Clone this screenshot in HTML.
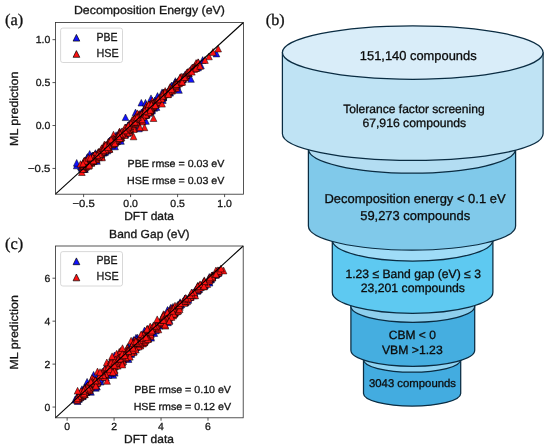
<!DOCTYPE html>
<html><head><meta charset="utf-8"><title>figure</title>
<style>html,body{margin:0;padding:0;background:#fff}svg{display:block;will-change:transform}</style></head>
<body>
<svg width="550" height="448" viewBox="0 0 550 448" text-rendering="geometricPrecision">
<rect width="550" height="448" fill="#fff"/>
<g stroke="#000" stroke-width="0.5" stroke-linejoin="miter">
<path d="M87.2 157.2L83.8 163.9H90.5Z" fill="#1212ff"/>
<path d="M137.0 118.5L133.7 125.2H140.4Z" fill="#1212ff"/>
<path d="M112.2 135.9L108.9 142.6H115.6Z" fill="#1212ff"/>
<path d="M132.2 118.5L128.8 125.2H135.5Z" fill="#1212ff"/>
<path d="M153.2 100.5L149.9 107.2H156.6Z" fill="#1212ff"/>
<path d="M120.0 133.6L116.6 140.3H123.3Z" fill="#1212ff"/>
<path d="M119.0 133.1L115.6 139.8H122.3Z" fill="#1212ff"/>
<path d="M87.8 158.4L84.4 165.1H91.1Z" fill="#1212ff"/>
<path d="M100.5 148.3L97.2 155.0H103.9Z" fill="#1212ff"/>
<path d="M117.4 134.5L114.1 141.2H120.8Z" fill="#1212ff"/>
<path d="M131.6 121.7L128.3 128.4H135.0Z" fill="#1212ff"/>
<path d="M140.0 113.1L136.7 119.8H143.4Z" fill="#1212ff"/>
<path d="M109.5 138.3L106.2 145.0H112.9Z" fill="#1212ff"/>
<path d="M84.9 165.7L81.6 172.4H88.3Z" fill="#1212ff"/>
<path d="M103.4 149.4L100.1 156.1H106.8Z" fill="#1212ff"/>
<path d="M146.7 110.8L143.4 117.5H150.1Z" fill="#1212ff"/>
<path d="M95.0 154.9L91.7 161.6H98.4Z" fill="#1212ff"/>
<path d="M113.9 141.3L110.5 148.0H117.2Z" fill="#1212ff"/>
<path d="M149.5 103.7L146.2 110.4H152.9Z" fill="#1212ff"/>
<path d="M85.5 160.2L82.1 166.9H88.8Z" fill="#1212ff"/>
<path d="M124.8 128.0L121.5 134.7H128.2Z" fill="#1212ff"/>
<path d="M149.2 106.6L145.9 113.3H152.6Z" fill="#1212ff"/>
<path d="M100.4 148.3L97.0 155.0H103.7Z" fill="#1212ff"/>
<path d="M121.6 130.0L118.2 136.7H124.9Z" fill="#1212ff"/>
<path d="M147.3 106.2L143.9 112.9H150.6Z" fill="#1212ff"/>
<path d="M90.3 158.5L87.0 165.2H93.7Z" fill="#1212ff"/>
<path d="M118.7 131.6L115.3 138.3H122.0Z" fill="#1212ff"/>
<path d="M137.4 119.2L134.1 125.9H140.8Z" fill="#1212ff"/>
<path d="M129.9 120.1L126.5 126.8H133.2Z" fill="#1212ff"/>
<path d="M115.1 143.1L111.7 149.8H118.4Z" fill="#1212ff"/>
<path d="M96.1 153.7L92.7 160.4H99.4Z" fill="#1212ff"/>
<path d="M118.7 135.7L115.4 142.4H122.1Z" fill="#1212ff"/>
<path d="M108.1 141.0L104.8 147.7H111.5Z" fill="#1212ff"/>
<path d="M116.9 138.0L113.5 144.7H120.2Z" fill="#1212ff"/>
<path d="M108.5 138.4L105.1 145.1H111.8Z" fill="#1212ff"/>
<path d="M142.6 114.6L139.2 121.3H145.9Z" fill="#1212ff"/>
<path d="M136.5 112.3L133.2 119.0H139.9Z" fill="#1212ff"/>
<path d="M105.1 144.2L101.7 150.9H108.4Z" fill="#1212ff"/>
<path d="M124.7 127.5L121.3 134.2H128.0Z" fill="#1212ff"/>
<path d="M101.7 147.0L98.3 153.7H105.0Z" fill="#1212ff"/>
<path d="M113.6 132.8L110.3 139.5H117.0Z" fill="#1212ff"/>
<path d="M106.1 142.6L102.7 149.3H109.4Z" fill="#1212ff"/>
<path d="M129.5 128.1L126.1 134.8H132.8Z" fill="#1212ff"/>
<path d="M108.3 139.9L104.9 146.6H111.6Z" fill="#1212ff"/>
<path d="M114.9 136.0L111.5 142.7H118.2Z" fill="#1212ff"/>
<path d="M133.8 122.8L130.4 129.5H137.1Z" fill="#1212ff"/>
<path d="M110.2 139.1L106.9 145.8H113.6Z" fill="#1212ff"/>
<path d="M148.1 108.9L144.7 115.6H151.4Z" fill="#1212ff"/>
<path d="M95.0 152.7L91.7 159.4H98.4Z" fill="#1212ff"/>
<path d="M135.3 117.4L131.9 124.1H138.6Z" fill="#1212ff"/>
<path d="M112.5 140.1L109.2 146.8H115.9Z" fill="#1212ff"/>
<path d="M113.5 136.4L110.1 143.1H116.8Z" fill="#1212ff"/>
<path d="M127.7 127.1L124.3 133.8H131.0Z" fill="#1212ff"/>
<path d="M118.8 132.6L115.4 139.3H122.1Z" fill="#1212ff"/>
<path d="M112.8 139.6L109.5 146.3H116.2Z" fill="#1212ff"/>
<path d="M81.4 164.5L78.1 171.2H84.8Z" fill="#1212ff"/>
<path d="M87.7 154.7L84.4 161.4H91.1Z" fill="#1212ff"/>
<path d="M131.6 121.0L128.2 127.7H134.9Z" fill="#1212ff"/>
<path d="M119.7 134.5L116.3 141.2H123.0Z" fill="#1212ff"/>
<path d="M131.1 122.0L127.8 128.7H134.5Z" fill="#1212ff"/>
<path d="M150.4 105.8L147.0 112.5H153.7Z" fill="#1212ff"/>
<path d="M131.6 121.2L128.2 127.9H134.9Z" fill="#1212ff"/>
<path d="M85.6 160.2L82.2 166.9H88.9Z" fill="#1212ff"/>
<path d="M105.0 144.9L101.7 151.6H108.4Z" fill="#1212ff"/>
<path d="M124.9 127.2L121.5 133.9H128.2Z" fill="#1212ff"/>
<path d="M98.4 151.7L95.0 158.4H101.7Z" fill="#1212ff"/>
<path d="M151.3 102.3L147.9 109.0H154.6Z" fill="#1212ff"/>
<path d="M149.6 102.4L146.3 109.1H153.0Z" fill="#1212ff"/>
<path d="M143.7 111.5L140.4 118.2H147.1Z" fill="#1212ff"/>
<path d="M115.9 135.7L112.6 142.4H119.3Z" fill="#1212ff"/>
<path d="M142.2 111.4L138.9 118.1H145.6Z" fill="#1212ff"/>
<path d="M92.0 152.6L88.7 159.3H95.4Z" fill="#1212ff"/>
<path d="M104.2 143.6L100.8 150.3H107.5Z" fill="#1212ff"/>
<path d="M114.8 138.2L111.4 144.9H118.1Z" fill="#1212ff"/>
<path d="M134.0 118.9L130.6 125.6H137.3Z" fill="#1212ff"/>
<path d="M117.3 137.6L113.9 144.3H120.6Z" fill="#1212ff"/>
<path d="M91.9 157.7L88.5 164.4H95.2Z" fill="#1212ff"/>
<path d="M106.6 144.0L103.3 150.7H110.0Z" fill="#1212ff"/>
<path d="M104.8 144.1L101.4 150.8H108.1Z" fill="#1212ff"/>
<path d="M102.7 145.1L99.3 151.8H106.0Z" fill="#1212ff"/>
<path d="M93.5 155.0L90.1 161.7H96.8Z" fill="#1212ff"/>
<path d="M112.0 142.2L108.6 148.9H115.3Z" fill="#1212ff"/>
<path d="M114.0 136.4L110.7 143.1H117.4Z" fill="#1212ff"/>
<path d="M137.7 116.1L134.3 122.8H141.0Z" fill="#1212ff"/>
<path d="M138.9 113.6L135.6 120.3H142.3Z" fill="#1212ff"/>
<path d="M119.8 131.6L116.5 138.3H123.2Z" fill="#1212ff"/>
<path d="M115.3 134.6L111.9 141.3H118.6Z" fill="#1212ff"/>
<path d="M137.3 114.6L134.0 121.3H140.7Z" fill="#1212ff"/>
<path d="M146.7 105.6L143.3 112.3H150.0Z" fill="#1212ff"/>
<path d="M131.3 122.5L128.0 129.2H134.7Z" fill="#1212ff"/>
<path d="M140.4 111.0L137.1 117.7H143.8Z" fill="#1212ff"/>
<path d="M149.6 106.0L146.2 112.7H152.9Z" fill="#1212ff"/>
<path d="M84.5 161.2L81.1 167.9H87.8Z" fill="#1212ff"/>
<path d="M144.0 105.8L140.7 112.5H147.4Z" fill="#1212ff"/>
<path d="M102.4 146.4L99.1 153.1H105.8Z" fill="#1212ff"/>
<path d="M114.1 139.8L110.8 146.5H117.5Z" fill="#1212ff"/>
<path d="M139.0 111.2L135.7 117.9H142.4Z" fill="#1212ff"/>
<path d="M133.3 117.5L130.0 124.2H136.7Z" fill="#1212ff"/>
<path d="M93.2 152.0L89.8 158.7H96.5Z" fill="#1212ff"/>
<path d="M129.4 122.8L126.0 129.5H132.7Z" fill="#1212ff"/>
<path d="M85.8 159.7L82.5 166.4H89.2Z" fill="#1212ff"/>
<path d="M106.2 144.9L102.9 151.6H109.6Z" fill="#1212ff"/>
<path d="M139.9 115.2L136.5 121.9H143.2Z" fill="#1212ff"/>
<path d="M112.8 135.1L109.4 141.8H116.1Z" fill="#1212ff"/>
<path d="M125.2 127.9L121.8 134.6H128.5Z" fill="#1212ff"/>
<path d="M134.2 119.9L130.9 126.6H137.6Z" fill="#1212ff"/>
<path d="M140.5 114.1L137.2 120.8H143.9Z" fill="#1212ff"/>
<path d="M136.6 112.6L133.2 119.3H139.9Z" fill="#1212ff"/>
<path d="M83.2 160.5L79.8 167.2H86.5Z" fill="#1212ff"/>
<path d="M111.1 140.8L107.8 147.5H114.5Z" fill="#1212ff"/>
<path d="M115.3 136.3L111.9 143.0H118.6Z" fill="#1212ff"/>
<path d="M87.3 157.9L83.9 164.6H90.6Z" fill="#1212ff"/>
<path d="M121.4 128.6L118.1 135.3H124.8Z" fill="#1212ff"/>
<path d="M125.3 130.6L121.9 137.3H128.6Z" fill="#1212ff"/>
<path d="M142.3 109.5L139.0 116.2H145.7Z" fill="#1212ff"/>
<path d="M149.2 105.7L145.8 112.4H152.5Z" fill="#1212ff"/>
<path d="M91.0 157.8L87.7 164.5H94.4Z" fill="#1212ff"/>
<path d="M99.9 150.0L96.5 156.7H103.2Z" fill="#1212ff"/>
<path d="M131.2 119.9L127.9 126.6H134.6Z" fill="#1212ff"/>
<path d="M89.7 153.6L86.4 160.3H93.1Z" fill="#1212ff"/>
<path d="M98.6 149.9L95.2 156.6H101.9Z" fill="#1212ff"/>
<path d="M125.2 125.9L121.8 132.6H128.5Z" fill="#1212ff"/>
<path d="M93.5 156.2L90.1 162.9H96.8Z" fill="#1212ff"/>
<path d="M138.6 113.8L135.2 120.5H141.9Z" fill="#1212ff"/>
<path d="M145.2 107.1L141.8 113.8H148.5Z" fill="#1212ff"/>
<path d="M83.7 165.4L80.3 172.1H87.0Z" fill="#1212ff"/>
<path d="M120.7 132.3L117.3 139.0H124.0Z" fill="#1212ff"/>
<path d="M139.3 112.4L136.0 119.1H142.7Z" fill="#1212ff"/>
<path d="M150.5 107.9L147.1 114.6H153.8Z" fill="#1212ff"/>
<path d="M101.9 148.5L98.5 155.2H105.2Z" fill="#1212ff"/>
<path d="M93.8 152.8L90.4 159.5H97.1Z" fill="#1212ff"/>
<path d="M146.0 111.8L142.7 118.5H149.4Z" fill="#1212ff"/>
<path d="M149.5 105.8L146.1 112.5H152.8Z" fill="#1212ff"/>
<path d="M96.7 151.6L93.3 158.3H100.0Z" fill="#1212ff"/>
<path d="M113.3 136.0L110.0 142.7H116.7Z" fill="#1212ff"/>
<path d="M134.2 121.7L130.9 128.4H137.6Z" fill="#1212ff"/>
<path d="M143.1 108.3L139.7 115.0H146.4Z" fill="#1212ff"/>
<path d="M94.9 152.4L91.5 159.1H98.2Z" fill="#1212ff"/>
<path d="M128.5 121.5L125.1 128.2H131.8Z" fill="#1212ff"/>
<path d="M139.1 111.9L135.7 118.6H142.4Z" fill="#1212ff"/>
<path d="M119.6 131.5L116.2 138.2H122.9Z" fill="#1212ff"/>
<path d="M94.2 152.6L90.9 159.3H97.6Z" fill="#1212ff"/>
<path d="M84.3 165.4L80.9 172.1H87.6Z" fill="#1212ff"/>
<path d="M101.5 151.1L98.1 157.8H104.8Z" fill="#1212ff"/>
<path d="M139.5 116.2L136.2 122.9H142.9Z" fill="#1212ff"/>
<path d="M84.4 162.3L81.1 169.0H87.8Z" fill="#1212ff"/>
<path d="M81.4 162.0L78.1 168.7H84.8Z" fill="#1212ff"/>
<path d="M107.6 147.1L104.2 153.8H110.9Z" fill="#1212ff"/>
<path d="M85.9 161.1L82.5 167.8H89.2Z" fill="#1212ff"/>
<path d="M93.8 156.8L90.5 163.5H97.2Z" fill="#1212ff"/>
<path d="M83.7 165.4L80.4 172.1H87.1Z" fill="#1212ff"/>
<path d="M118.9 129.6L115.6 136.3H122.3Z" fill="#1212ff"/>
<path d="M131.6 121.0L128.2 127.7H134.9Z" fill="#1212ff"/>
<path d="M113.8 134.0L110.4 140.7H117.1Z" fill="#1212ff"/>
<path d="M91.9 152.9L88.5 159.6H95.2Z" fill="#1212ff"/>
<path d="M106.0 146.5L102.6 153.2H109.3Z" fill="#1212ff"/>
<path d="M125.1 131.3L121.8 138.0H128.5Z" fill="#1212ff"/>
<path d="M151.3 98.7L147.9 105.4H154.6Z" fill="#1212ff"/>
<path d="M152.4 103.1L149.1 109.8H155.8Z" fill="#1212ff"/>
<path d="M98.5 153.0L95.2 159.7H101.9Z" fill="#1212ff"/>
<path d="M80.8 163.1L77.5 169.8H84.2Z" fill="#1212ff"/>
<path d="M142.3 111.2L139.0 117.9H145.7Z" fill="#1212ff"/>
<path d="M148.4 107.4L145.1 114.1H151.8Z" fill="#1212ff"/>
<path d="M114.3 137.8L110.9 144.5H117.6Z" fill="#1212ff"/>
<path d="M136.8 116.1L133.5 122.8H140.2Z" fill="#1212ff"/>
<path d="M145.1 108.8L141.7 115.5H148.4Z" fill="#1212ff"/>
<path d="M125.7 125.0L122.4 131.7H129.1Z" fill="#1212ff"/>
<path d="M144.4 110.4L141.0 117.1H147.7Z" fill="#1212ff"/>
<path d="M84.6 161.9L81.3 168.6H88.0Z" fill="#1212ff"/>
<path d="M100.4 147.7L97.0 154.4H103.7Z" fill="#1212ff"/>
<path d="M100.6 148.2L97.2 154.9H103.9Z" fill="#1212ff"/>
<path d="M92.9 152.1L89.5 158.8H96.2Z" fill="#1212ff"/>
<path d="M147.3 107.5L143.9 114.2H150.6Z" fill="#1212ff"/>
<path d="M83.4 162.5L80.1 169.2H86.8Z" fill="#1212ff"/>
<path d="M129.7 125.5L126.4 132.2H133.1Z" fill="#1212ff"/>
<path d="M86.8 156.3L83.4 163.0H90.1Z" fill="#1212ff"/>
<path d="M108.6 145.4L105.2 152.1H111.9Z" fill="#1212ff"/>
<path d="M112.7 138.1L109.3 144.8H116.0Z" fill="#1212ff"/>
<path d="M95.4 154.8L92.0 161.5H98.7Z" fill="#1212ff"/>
<path d="M119.2 131.9L115.8 138.6H122.5Z" fill="#1212ff"/>
<path d="M119.0 131.1L115.7 137.8H122.4Z" fill="#1212ff"/>
<path d="M104.9 148.9L101.6 155.6H108.3Z" fill="#1212ff"/>
<path d="M136.5 117.2L133.1 123.9H139.8Z" fill="#1212ff"/>
<path d="M94.3 157.4L91.0 164.1H97.7Z" fill="#1212ff"/>
<path d="M95.5 149.7L92.1 156.4H98.8Z" fill="#1212ff"/>
<path d="M108.1 143.7L104.8 150.4H111.5Z" fill="#1212ff"/>
<path d="M108.7 145.6L105.4 152.3H112.1Z" fill="#1212ff"/>
<path d="M96.6 153.4L93.2 160.1H99.9Z" fill="#1212ff"/>
<path d="M147.1 104.3L143.7 111.0H150.4Z" fill="#1212ff"/>
<path d="M141.4 109.1L138.0 115.8H144.7Z" fill="#1212ff"/>
<path d="M89.6 154.6L86.2 161.3H92.9Z" fill="#1212ff"/>
<path d="M108.3 144.3L105.0 151.0H111.7Z" fill="#1212ff"/>
<path d="M99.3 150.0L95.9 156.7H102.6Z" fill="#1212ff"/>
<path d="M116.1 131.8L112.8 138.5H119.5Z" fill="#1212ff"/>
<path d="M103.0 148.3L99.6 155.0H106.3Z" fill="#1212ff"/>
<path d="M117.8 134.6L114.4 141.3H121.1Z" fill="#1212ff"/>
<path d="M147.8 108.6L144.5 115.3H151.2Z" fill="#1212ff"/>
<path d="M108.8 144.6L105.4 151.3H112.1Z" fill="#1212ff"/>
<path d="M127.9 122.0L124.5 128.7H131.2Z" fill="#1212ff"/>
<path d="M124.9 126.0L121.5 132.7H128.2Z" fill="#1212ff"/>
<path d="M136.5 115.8L133.2 122.5H139.9Z" fill="#1212ff"/>
<path d="M86.4 158.6L83.0 165.3H89.7Z" fill="#1212ff"/>
<path d="M135.8 115.2L132.5 121.9H139.2Z" fill="#1212ff"/>
<path d="M150.4 100.8L147.0 107.5H153.7Z" fill="#1212ff"/>
<path d="M125.3 127.0L121.9 133.7H128.6Z" fill="#1212ff"/>
<path d="M101.8 148.6L98.5 155.3H105.2Z" fill="#1212ff"/>
<path d="M132.0 123.1L128.7 129.8H135.4Z" fill="#1212ff"/>
<path d="M134.2 116.5L130.9 123.2H137.6Z" fill="#1212ff"/>
<path d="M128.4 125.3L125.0 132.0H131.7Z" fill="#1212ff"/>
<path d="M91.5 159.3L88.2 166.0H94.9Z" fill="#1212ff"/>
<path d="M151.6 103.6L148.3 110.3H155.0Z" fill="#1212ff"/>
<path d="M150.9 103.6L147.6 110.3H154.3Z" fill="#1212ff"/>
<path d="M113.6 135.8L110.3 142.5H117.0Z" fill="#1212ff"/>
<path d="M125.6 124.5L122.3 131.2H129.0Z" fill="#1212ff"/>
<path d="M85.6 162.0L82.2 168.7H88.9Z" fill="#1212ff"/>
<path d="M154.3 102.3L150.9 109.0H157.6Z" fill="#1212ff"/>
<path d="M142.0 112.5L138.7 119.2H145.4Z" fill="#1212ff"/>
<path d="M128.5 126.8L125.1 133.5H131.8Z" fill="#1212ff"/>
<path d="M137.2 116.4L133.9 123.1H140.6Z" fill="#1212ff"/>
<path d="M95.2 152.0L91.9 158.7H98.6Z" fill="#1212ff"/>
<path d="M102.3 147.5L99.0 154.2H105.7Z" fill="#1212ff"/>
<path d="M99.4 153.2L96.1 159.9H102.8Z" fill="#1212ff"/>
<path d="M126.6 128.5L123.2 135.2H129.9Z" fill="#1212ff"/>
<path d="M87.9 156.0L84.5 162.7H91.2Z" fill="#1212ff"/>
<path d="M146.0 110.4L142.6 117.1H149.3Z" fill="#1212ff"/>
<path d="M116.1 133.8L112.8 140.5H119.5Z" fill="#1212ff"/>
<path d="M114.0 135.9L110.6 142.6H117.3Z" fill="#1212ff"/>
<path d="M88.8 158.7L85.5 165.4H92.2Z" fill="#1212ff"/>
<path d="M132.8 122.4L129.4 129.1H136.1Z" fill="#1212ff"/>
<path d="M141.4 111.8L138.1 118.5H144.8Z" fill="#1212ff"/>
<path d="M128.0 126.5L124.6 133.2H131.3Z" fill="#1212ff"/>
<path d="M98.7 150.7L95.4 157.4H102.1Z" fill="#1212ff"/>
<path d="M139.0 114.2L135.7 120.9H142.4Z" fill="#1212ff"/>
<path d="M92.6 156.5L89.3 163.2H96.0Z" fill="#1212ff"/>
<path d="M142.3 112.0L139.0 118.7H145.7Z" fill="#1212ff"/>
<path d="M124.8 128.1L121.5 134.8H128.2Z" fill="#1212ff"/>
<path d="M103.7 148.9L100.4 155.6H107.1Z" fill="#1212ff"/>
<path d="M119.0 133.2L115.7 139.9H122.4Z" fill="#1212ff"/>
<path d="M127.9 126.1L124.5 132.8H131.2Z" fill="#1212ff"/>
<path d="M99.4 153.9L96.0 160.6H102.7Z" fill="#1212ff"/>
<path d="M143.6 111.0L140.3 117.7H147.0Z" fill="#1212ff"/>
<path d="M112.9 139.0L109.5 145.7H116.2Z" fill="#1212ff"/>
<path d="M145.9 109.5L142.6 116.2H149.3Z" fill="#1212ff"/>
<path d="M141.5 116.8L138.1 123.5H144.8Z" fill="#1212ff"/>
<path d="M88.9 156.3L85.5 163.0H92.2Z" fill="#1212ff"/>
<path d="M127.4 123.6L124.0 130.3H130.7Z" fill="#1212ff"/>
<path d="M104.5 144.2L101.2 150.9H107.9Z" fill="#1212ff"/>
<path d="M136.6 116.0L133.2 122.7H139.9Z" fill="#1212ff"/>
<path d="M120.1 134.5L116.8 141.2H123.5Z" fill="#1212ff"/>
<path d="M114.9 136.3L111.5 143.0H118.2Z" fill="#1212ff"/>
<path d="M147.5 108.8L144.2 115.5H150.9Z" fill="#1212ff"/>
<path d="M86.9 154.6L83.5 161.3H90.2Z" fill="#1212ff"/>
<path d="M123.0 130.2L119.7 136.9H126.4Z" fill="#1212ff"/>
<path d="M105.3 143.6L102.0 150.3H108.7Z" fill="#1212ff"/>
<path d="M84.0 165.3L80.6 172.0H87.3Z" fill="#1212ff"/>
<path d="M135.9 119.9L132.5 126.6H139.2Z" fill="#1212ff"/>
<path d="M122.9 130.4L119.6 137.1H126.3Z" fill="#1212ff"/>
<path d="M148.6 104.1L145.3 110.8H152.0Z" fill="#1212ff"/>
<path d="M126.3 124.9L123.0 131.6H129.7Z" fill="#1212ff"/>
<path d="M107.6 142.4L104.3 149.1H111.0Z" fill="#1212ff"/>
<path d="M154.3 104.6L150.9 111.3H157.6Z" fill="#1212ff"/>
<path d="M88.6 155.9L85.2 162.6H91.9Z" fill="#1212ff"/>
<path d="M85.3 162.8L82.0 169.5H88.7Z" fill="#1212ff"/>
<path d="M134.3 115.2L131.0 121.9H137.7Z" fill="#1212ff"/>
<path d="M109.7 137.1L106.4 143.8H113.1Z" fill="#1212ff"/>
<path d="M109.5 139.6L106.1 146.3H112.8Z" fill="#1212ff"/>
<path d="M144.5 107.3L141.2 114.0H147.9Z" fill="#1212ff"/>
<path d="M105.4 147.7L102.1 154.4H108.8Z" fill="#1212ff"/>
<path d="M146.6 101.9L143.2 108.6H149.9Z" fill="#1212ff"/>
<path d="M127.9 124.2L124.5 130.9H131.2Z" fill="#1212ff"/>
<path d="M104.9 143.2L101.6 149.9H108.3Z" fill="#1212ff"/>
<path d="M85.4 162.7L82.0 169.4H88.7Z" fill="#1212ff"/>
<path d="M100.3 149.0L96.9 155.7H103.6Z" fill="#1212ff"/>
<path d="M151.0 106.2L147.6 112.9H154.3Z" fill="#1212ff"/>
<path d="M112.1 139.6L108.8 146.3H115.5Z" fill="#1212ff"/>
<path d="M93.4 154.4L90.0 161.1H96.7Z" fill="#1212ff"/>
<path d="M104.0 145.4L100.6 152.1H107.3Z" fill="#1212ff"/>
<path d="M148.3 102.9L144.9 109.6H151.6Z" fill="#1212ff"/>
<path d="M93.0 153.7L89.7 160.4H96.4Z" fill="#1212ff"/>
<path d="M137.3 115.6L133.9 122.3H140.6Z" fill="#1212ff"/>
<path d="M91.9 155.4L88.5 162.1H95.2Z" fill="#1212ff"/>
<path d="M150.3 99.7L147.0 106.4H153.7Z" fill="#1212ff"/>
<path d="M119.4 133.7L116.1 140.4H122.8Z" fill="#1212ff"/>
<path d="M84.7 158.6L81.4 165.3H88.1Z" fill="#1212ff"/>
<path d="M149.2 109.5L145.9 116.2H152.6Z" fill="#1212ff"/>
<path d="M106.5 146.1L103.1 152.8H109.8Z" fill="#1212ff"/>
<path d="M134.3 117.9L131.0 124.6H137.7Z" fill="#1212ff"/>
<path d="M120.2 132.0L116.8 138.7H123.5Z" fill="#1212ff"/>
<path d="M89.7 150.5L86.3 157.2H93.0Z" fill="#1212ff"/>
<path d="M87.6 153.5L84.2 160.2H90.9Z" fill="#1212ff"/>
<path d="M93.7 157.3L90.4 164.0H97.1Z" fill="#1212ff"/>
<path d="M94.2 156.0L90.9 162.7H97.6Z" fill="#1212ff"/>
<path d="M84.5 161.8L81.2 168.5H87.9Z" fill="#1212ff"/>
<path d="M83.7 158.3L80.4 165.0H87.1Z" fill="#1212ff"/>
<path d="M150.8 101.3L147.4 108.0H154.1Z" fill="#1212ff"/>
<path d="M87.9 158.0L84.6 164.7H91.3Z" fill="#1212ff"/>
<path d="M118.6 136.2L115.3 142.9H122.0Z" fill="#1212ff"/>
<path d="M91.1 157.9L87.8 164.6H94.5Z" fill="#1212ff"/>
<path d="M96.9 157.6L93.6 164.3H100.3Z" fill="#1212ff"/>
<path d="M137.1 119.6L133.8 126.3H140.5Z" fill="#1212ff"/>
<path d="M180.4 75.9L177.1 82.6H183.8Z" fill="#1212ff"/>
<path d="M163.2 90.7L159.8 97.4H166.5Z" fill="#1212ff"/>
<path d="M146.6 110.5L143.2 117.2H149.9Z" fill="#1212ff"/>
<path d="M183.9 73.3L180.5 80.0H187.2Z" fill="#1212ff"/>
<path d="M146.7 103.9L143.4 110.6H150.1Z" fill="#1212ff"/>
<path d="M159.1 95.8L155.8 102.5H162.5Z" fill="#1212ff"/>
<path d="M167.2 89.3L163.8 96.0H170.5Z" fill="#1212ff"/>
<path d="M178.8 77.1L175.5 83.8H182.2Z" fill="#1212ff"/>
<path d="M176.0 79.7L172.7 86.4H179.4Z" fill="#1212ff"/>
<path d="M166.6 89.2L163.2 95.9H169.9Z" fill="#1212ff"/>
<path d="M160.4 96.1L157.1 102.8H163.8Z" fill="#1212ff"/>
<path d="M175.3 82.0L172.0 88.7H178.7Z" fill="#1212ff"/>
<path d="M176.9 79.7L173.6 86.4H180.3Z" fill="#1212ff"/>
<path d="M176.2 81.4L172.9 88.1H179.6Z" fill="#1212ff"/>
<path d="M171.2 82.8L167.8 89.5H174.5Z" fill="#1212ff"/>
<path d="M148.4 103.9L145.1 110.6H151.8Z" fill="#1212ff"/>
<path d="M154.5 97.9L151.2 104.6H157.9Z" fill="#1212ff"/>
<path d="M162.1 88.9L158.8 95.6H165.5Z" fill="#1212ff"/>
<path d="M163.6 89.3L160.3 96.0H167.0Z" fill="#1212ff"/>
<path d="M174.8 79.3L171.5 86.0H178.2Z" fill="#1212ff"/>
<path d="M152.5 101.4L149.1 108.1H155.8Z" fill="#1212ff"/>
<path d="M168.9 87.5L165.6 94.2H172.3Z" fill="#1212ff"/>
<path d="M157.5 92.6L154.1 99.3H160.8Z" fill="#1212ff"/>
<path d="M174.4 83.3L171.1 90.0H177.8Z" fill="#1212ff"/>
<path d="M151.1 104.8L147.8 111.5H154.5Z" fill="#1212ff"/>
<path d="M163.3 94.2L160.0 100.9H166.7Z" fill="#1212ff"/>
<path d="M149.5 104.5L146.1 111.2H152.8Z" fill="#1212ff"/>
<path d="M151.6 102.1L148.2 108.8H154.9Z" fill="#1212ff"/>
<path d="M179.9 75.4L176.6 82.1H183.3Z" fill="#1212ff"/>
<path d="M156.1 99.3L152.8 106.0H159.5Z" fill="#1212ff"/>
<path d="M177.2 82.6L173.9 89.3H180.6Z" fill="#1212ff"/>
<path d="M164.1 91.0L160.8 97.7H167.5Z" fill="#1212ff"/>
<path d="M145.9 106.0L142.6 112.7H149.3Z" fill="#1212ff"/>
<path d="M175.2 81.4L171.8 88.1H178.5Z" fill="#1212ff"/>
<path d="M147.6 106.9L144.3 113.6H151.0Z" fill="#1212ff"/>
<path d="M174.8 80.9L171.4 87.6H178.1Z" fill="#1212ff"/>
<path d="M144.7 106.2L141.3 112.9H148.0Z" fill="#1212ff"/>
<path d="M170.5 85.8L167.2 92.5H173.9Z" fill="#1212ff"/>
<path d="M152.0 105.7L148.7 112.4H155.4Z" fill="#1212ff"/>
<path d="M155.3 100.8L152.0 107.5H158.7Z" fill="#1212ff"/>
<path d="M181.7 75.8L178.4 82.5H185.1Z" fill="#1212ff"/>
<path d="M162.8 96.7L159.5 103.4H166.2Z" fill="#1212ff"/>
<path d="M170.9 84.1L167.5 90.8H174.2Z" fill="#1212ff"/>
<path d="M172.2 85.5L168.8 92.2H175.5Z" fill="#1212ff"/>
<path d="M148.1 105.1L144.7 111.8H151.4Z" fill="#1212ff"/>
<path d="M176.3 80.1L172.9 86.8H179.6Z" fill="#1212ff"/>
<path d="M180.2 77.4L176.8 84.1H183.5Z" fill="#1212ff"/>
<path d="M150.6 100.3L147.2 107.0H153.9Z" fill="#1212ff"/>
<path d="M163.0 93.5L159.7 100.2H166.4Z" fill="#1212ff"/>
<path d="M156.0 100.4L152.7 107.1H159.4Z" fill="#1212ff"/>
<path d="M171.0 84.7L167.7 91.4H174.4Z" fill="#1212ff"/>
<path d="M144.8 107.3L141.5 114.0H148.2Z" fill="#1212ff"/>
<path d="M162.9 92.7L159.5 99.4H166.2Z" fill="#1212ff"/>
<path d="M172.8 85.3L169.4 92.0H176.1Z" fill="#1212ff"/>
<path d="M171.2 83.9L167.8 90.6H174.5Z" fill="#1212ff"/>
<path d="M147.8 105.1L144.5 111.8H151.2Z" fill="#1212ff"/>
<path d="M175.4 77.7L172.1 84.4H178.8Z" fill="#1212ff"/>
<path d="M153.6 101.7L150.2 108.4H156.9Z" fill="#1212ff"/>
<path d="M174.8 81.5L171.4 88.2H178.1Z" fill="#1212ff"/>
<path d="M162.0 94.7L158.7 101.4H165.4Z" fill="#1212ff"/>
<path d="M150.6 107.2L147.2 113.9H153.9Z" fill="#1212ff"/>
<path d="M173.2 83.1L169.9 89.8H176.6Z" fill="#1212ff"/>
<path d="M176.0 79.3L172.6 86.0H179.3Z" fill="#1212ff"/>
<path d="M171.1 86.9L167.8 93.6H174.5Z" fill="#1212ff"/>
<path d="M181.6 76.8L178.2 83.5H184.9Z" fill="#1212ff"/>
<path d="M155.2 102.3L151.8 109.0H158.5Z" fill="#1212ff"/>
<path d="M154.8 97.1L151.5 103.8H158.2Z" fill="#1212ff"/>
<path d="M151.8 104.2L148.5 110.9H155.2Z" fill="#1212ff"/>
<path d="M164.7 90.1L161.3 96.8H168.0Z" fill="#1212ff"/>
<path d="M159.5 97.7L156.1 104.4H162.8Z" fill="#1212ff"/>
<path d="M159.5 95.6L156.1 102.3H162.8Z" fill="#1212ff"/>
<path d="M163.5 93.5L160.1 100.2H166.8Z" fill="#1212ff"/>
<path d="M156.5 103.7L153.1 110.4H159.8Z" fill="#1212ff"/>
<path d="M142.7 111.0L139.3 117.7H146.0Z" fill="#1212ff"/>
<path d="M162.2 92.1L158.9 98.8H165.6Z" fill="#1212ff"/>
<path d="M152.0 107.2L148.7 113.9H155.4Z" fill="#1212ff"/>
<path d="M162.3 93.6L158.9 100.3H165.6Z" fill="#1212ff"/>
<path d="M179.7 78.1L176.3 84.8H183.0Z" fill="#1212ff"/>
<path d="M151.5 105.5L148.1 112.2H154.8Z" fill="#1212ff"/>
<path d="M168.5 87.9L165.2 94.6H171.9Z" fill="#1212ff"/>
<path d="M170.2 89.4L166.8 96.1H173.5Z" fill="#1212ff"/>
<path d="M155.0 99.3L151.7 106.0H158.4Z" fill="#1212ff"/>
<path d="M163.4 89.6L160.0 96.3H166.7Z" fill="#1212ff"/>
<path d="M181.7 77.7L178.3 84.4H185.0Z" fill="#1212ff"/>
<path d="M157.9 97.4L154.6 104.1H161.3Z" fill="#1212ff"/>
<path d="M171.9 82.0L168.6 88.7H175.3Z" fill="#1212ff"/>
<path d="M176.4 80.1L173.0 86.8H179.7Z" fill="#1212ff"/>
<path d="M157.2 99.0L153.9 105.7H160.6Z" fill="#1212ff"/>
<path d="M182.6 76.2L179.2 82.9H185.9Z" fill="#1212ff"/>
<path d="M168.9 86.9L165.6 93.6H172.3Z" fill="#1212ff"/>
<path d="M187.8 70.1L184.5 76.8H191.2Z" fill="#1212ff"/>
<path d="M193.1 64.3L189.7 71.0H196.4Z" fill="#1212ff"/>
<path d="M187.2 72.3L183.9 79.0H190.6Z" fill="#1212ff"/>
<path d="M191.1 65.6L187.8 72.3H194.5Z" fill="#1212ff"/>
<path d="M183.1 74.7L179.8 81.4H186.5Z" fill="#1212ff"/>
<path d="M196.4 61.3L193.0 68.0H199.7Z" fill="#1212ff"/>
<path d="M188.0 70.7L184.6 77.4H191.3Z" fill="#1212ff"/>
<path d="M182.9 76.0L179.6 82.7H186.3Z" fill="#1212ff"/>
<path d="M185.8 72.4L182.5 79.1H189.2Z" fill="#1212ff"/>
<path d="M195.7 63.9L192.4 70.6H199.1Z" fill="#1212ff"/>
<path d="M194.5 64.2L191.2 70.9H197.9Z" fill="#1212ff"/>
<path d="M187.9 69.0L184.6 75.7H191.3Z" fill="#1212ff"/>
<path d="M185.2 71.0L181.8 77.7H188.5Z" fill="#1212ff"/>
<path d="M187.5 70.0L184.1 76.7H190.8Z" fill="#1212ff"/>
<path d="M197.4 61.8L194.1 68.5H200.8Z" fill="#1212ff"/>
<path d="M180.2 77.7L176.8 84.4H183.5Z" fill="#1212ff"/>
<path d="M194.9 62.8L191.5 69.5H198.2Z" fill="#1212ff"/>
<path d="M195.8 61.2L192.4 67.9H199.1Z" fill="#1212ff"/>
<path d="M183.3 74.6L180.0 81.3H186.7Z" fill="#1212ff"/>
<path d="M186.0 71.8L182.6 78.5H189.3Z" fill="#1212ff"/>
<path d="M188.8 70.0L185.4 76.7H192.1Z" fill="#1212ff"/>
<path d="M193.9 64.1L190.6 70.8H197.3Z" fill="#1212ff"/>
<path d="M198.4 59.0L195.1 65.7H201.8Z" fill="#1212ff"/>
<path d="M198.0 64.1L194.7 70.8H201.4Z" fill="#1212ff"/>
<path d="M76.7 162.2L73.4 168.8H80.0Z" fill="#1212ff"/>
<path d="M76.7 159.5L73.4 166.2H80.0Z" fill="#1212ff"/>
<path d="M125.5 114.0L122.2 120.6H128.8Z" fill="#1212ff"/>
<path d="M135.5 109.1L132.2 115.8H138.8Z" fill="#1212ff"/>
<path d="M141.3 99.4L138.0 106.0H144.7Z" fill="#1212ff"/>
<path d="M145.5 99.4L142.2 106.0H148.8Z" fill="#1212ff"/>
<path d="M151.0 94.9L147.7 101.5H154.3Z" fill="#1212ff"/>
<path d="M179.0 86.7L175.7 93.3H182.3Z" fill="#1212ff"/>
<path d="M191.0 75.7L187.7 82.3H194.3Z" fill="#1212ff"/>
<path d="M198.2 63.0L194.8 69.7H201.5Z" fill="#1212ff"/>
<path d="M201.0 62.1L197.7 68.8H204.3Z" fill="#1212ff"/>
<path d="M202.7 56.6L199.3 63.4H206.0Z" fill="#1212ff"/>
<path d="M216.4 50.2L213.1 56.9H219.8Z" fill="#1212ff"/>
<path d="M146.0 117.7L142.7 124.3H149.3Z" fill="#1212ff"/>
<path d="M139.0 125.2L135.7 131.8H142.3Z" fill="#1212ff"/>
<path d="M128.0 129.7L124.7 136.3H131.3Z" fill="#1212ff"/>
<path d="M121.0 137.7L117.7 144.3H124.3Z" fill="#1212ff"/>
<path d="M87.2 161.2L83.9 167.9H90.6Z" fill="#ff1212"/>
<path d="M138.2 116.7L134.8 123.4H141.5Z" fill="#ff1212"/>
<path d="M113.5 131.2L110.1 137.9H116.8Z" fill="#ff1212"/>
<path d="M134.1 120.4L130.7 127.1H137.4Z" fill="#ff1212"/>
<path d="M152.5 103.9L149.2 110.6H155.9Z" fill="#ff1212"/>
<path d="M120.7 130.5L117.3 137.2H124.0Z" fill="#ff1212"/>
<path d="M118.0 132.2L114.6 138.9H121.3Z" fill="#ff1212"/>
<path d="M86.9 159.0L83.6 165.7H90.3Z" fill="#ff1212"/>
<path d="M101.1 150.4L97.8 157.1H104.5Z" fill="#ff1212"/>
<path d="M117.9 136.5L114.6 143.2H121.3Z" fill="#ff1212"/>
<path d="M130.9 120.5L127.5 127.2H134.2Z" fill="#ff1212"/>
<path d="M139.9 113.8L136.5 120.5H143.2Z" fill="#ff1212"/>
<path d="M109.3 145.4L105.9 152.1H112.6Z" fill="#ff1212"/>
<path d="M86.5 157.1L83.1 163.8H89.8Z" fill="#ff1212"/>
<path d="M102.6 145.4L99.2 152.1H105.9Z" fill="#ff1212"/>
<path d="M147.6 107.2L144.2 113.9H150.9Z" fill="#ff1212"/>
<path d="M97.2 152.0L93.8 158.7H100.5Z" fill="#ff1212"/>
<path d="M114.4 136.4L111.1 143.1H117.8Z" fill="#ff1212"/>
<path d="M149.1 106.8L145.8 113.5H152.5Z" fill="#ff1212"/>
<path d="M83.5 165.3L80.2 172.0H86.9Z" fill="#ff1212"/>
<path d="M125.2 126.4L121.8 133.1H128.5Z" fill="#ff1212"/>
<path d="M150.5 107.3L147.1 114.0H153.8Z" fill="#ff1212"/>
<path d="M98.4 149.6L95.0 156.3H101.7Z" fill="#ff1212"/>
<path d="M121.4 133.9L118.1 140.6H124.8Z" fill="#ff1212"/>
<path d="M147.5 106.9L144.2 113.6H150.9Z" fill="#ff1212"/>
<path d="M91.4 156.3L88.0 163.0H94.7Z" fill="#ff1212"/>
<path d="M119.6 128.1L116.3 134.8H123.0Z" fill="#ff1212"/>
<path d="M136.0 119.7L132.7 126.4H139.4Z" fill="#ff1212"/>
<path d="M130.1 125.9L126.8 132.6H133.5Z" fill="#ff1212"/>
<path d="M115.6 137.4L112.2 144.1H118.9Z" fill="#ff1212"/>
<path d="M96.5 154.5L93.2 161.2H99.9Z" fill="#ff1212"/>
<path d="M117.2 135.7L113.9 142.4H120.6Z" fill="#ff1212"/>
<path d="M108.7 141.2L105.3 147.9H112.0Z" fill="#ff1212"/>
<path d="M116.3 133.5L112.9 140.2H119.6Z" fill="#ff1212"/>
<path d="M108.2 138.8L104.9 145.5H111.6Z" fill="#ff1212"/>
<path d="M142.4 113.1L139.0 119.8H145.7Z" fill="#ff1212"/>
<path d="M137.4 109.9L134.0 116.6H140.7Z" fill="#ff1212"/>
<path d="M104.4 141.1L101.1 147.8H107.8Z" fill="#ff1212"/>
<path d="M123.2 129.4L119.8 136.1H126.5Z" fill="#ff1212"/>
<path d="M101.7 153.2L98.4 159.9H105.1Z" fill="#ff1212"/>
<path d="M114.5 137.1L111.1 143.8H117.8Z" fill="#ff1212"/>
<path d="M107.3 143.3L103.9 150.0H110.6Z" fill="#ff1212"/>
<path d="M129.3 128.7L126.0 135.4H132.7Z" fill="#ff1212"/>
<path d="M108.5 142.2L105.2 148.9H111.9Z" fill="#ff1212"/>
<path d="M114.9 136.9L111.6 143.6H118.3Z" fill="#ff1212"/>
<path d="M133.8 121.1L130.4 127.8H137.1Z" fill="#ff1212"/>
<path d="M111.6 138.1L108.3 144.8H115.0Z" fill="#ff1212"/>
<path d="M147.3 104.6L144.0 111.3H150.7Z" fill="#ff1212"/>
<path d="M94.8 154.4L91.4 161.1H98.1Z" fill="#ff1212"/>
<path d="M135.4 117.3L132.0 124.0H138.7Z" fill="#ff1212"/>
<path d="M112.3 140.4L108.9 147.1H115.6Z" fill="#ff1212"/>
<path d="M112.6 140.4L109.2 147.1H115.9Z" fill="#ff1212"/>
<path d="M127.6 124.7L124.3 131.4H131.0Z" fill="#ff1212"/>
<path d="M119.6 131.0L116.2 137.7H122.9Z" fill="#ff1212"/>
<path d="M111.7 140.7L108.4 147.4H115.1Z" fill="#ff1212"/>
<path d="M81.8 168.8L78.5 175.5H85.2Z" fill="#ff1212"/>
<path d="M88.4 157.0L85.0 163.7H91.7Z" fill="#ff1212"/>
<path d="M133.1 123.6L129.7 130.3H136.4Z" fill="#ff1212"/>
<path d="M119.7 131.9L116.3 138.6H123.0Z" fill="#ff1212"/>
<path d="M132.1 116.7L128.8 123.4H135.5Z" fill="#ff1212"/>
<path d="M150.9 103.7L147.5 110.4H154.2Z" fill="#ff1212"/>
<path d="M131.1 124.4L127.8 131.1H134.5Z" fill="#ff1212"/>
<path d="M85.6 163.9L82.2 170.6H88.9Z" fill="#ff1212"/>
<path d="M104.1 143.3L100.7 150.0H107.4Z" fill="#ff1212"/>
<path d="M124.6 127.7L121.3 134.4H128.0Z" fill="#ff1212"/>
<path d="M98.7 148.9L95.4 155.6H102.1Z" fill="#ff1212"/>
<path d="M151.6 100.9L148.2 107.6H154.9Z" fill="#ff1212"/>
<path d="M150.1 104.5L146.8 111.2H153.5Z" fill="#ff1212"/>
<path d="M143.1 111.4L139.8 118.1H146.5Z" fill="#ff1212"/>
<path d="M115.9 137.8L112.6 144.5H119.3Z" fill="#ff1212"/>
<path d="M142.6 118.3L139.3 125.0H146.0Z" fill="#ff1212"/>
<path d="M91.2 159.6L87.9 166.3H94.6Z" fill="#ff1212"/>
<path d="M104.1 146.2L100.7 152.9H107.4Z" fill="#ff1212"/>
<path d="M115.2 136.6L111.9 143.3H118.6Z" fill="#ff1212"/>
<path d="M135.4 116.8L132.1 123.5H138.8Z" fill="#ff1212"/>
<path d="M116.9 135.0L113.5 141.7H120.2Z" fill="#ff1212"/>
<path d="M91.6 155.4L88.3 162.1H95.0Z" fill="#ff1212"/>
<path d="M106.6 142.2L103.2 148.9H109.9Z" fill="#ff1212"/>
<path d="M105.2 147.2L101.9 153.9H108.6Z" fill="#ff1212"/>
<path d="M103.5 147.2L100.1 153.9H106.8Z" fill="#ff1212"/>
<path d="M93.7 157.9L90.3 164.6H97.0Z" fill="#ff1212"/>
<path d="M111.8 137.1L108.4 143.8H115.1Z" fill="#ff1212"/>
<path d="M114.2 137.1L110.8 143.8H117.5Z" fill="#ff1212"/>
<path d="M137.8 114.5L134.5 121.2H141.2Z" fill="#ff1212"/>
<path d="M139.4 110.6L136.0 117.3H142.7Z" fill="#ff1212"/>
<path d="M119.5 129.8L116.2 136.5H122.9Z" fill="#ff1212"/>
<path d="M115.1 136.5L111.7 143.2H118.4Z" fill="#ff1212"/>
<path d="M138.0 113.5L134.7 120.2H141.4Z" fill="#ff1212"/>
<path d="M145.9 111.5L142.6 118.2H149.3Z" fill="#ff1212"/>
<path d="M130.6 121.2L127.2 127.9H133.9Z" fill="#ff1212"/>
<path d="M139.7 113.6L136.3 120.3H143.0Z" fill="#ff1212"/>
<path d="M149.7 108.5L146.3 115.2H153.0Z" fill="#ff1212"/>
<path d="M84.7 158.2L81.3 164.9H88.0Z" fill="#ff1212"/>
<path d="M145.1 110.6L141.8 117.3H148.5Z" fill="#ff1212"/>
<path d="M101.7 146.3L98.4 153.0H105.1Z" fill="#ff1212"/>
<path d="M116.2 136.3L112.8 143.0H119.5Z" fill="#ff1212"/>
<path d="M139.4 111.8L136.0 118.5H142.7Z" fill="#ff1212"/>
<path d="M133.6 116.4L130.3 123.1H137.0Z" fill="#ff1212"/>
<path d="M92.4 157.1L89.0 163.8H95.7Z" fill="#ff1212"/>
<path d="M129.4 126.8L126.1 133.5H132.8Z" fill="#ff1212"/>
<path d="M86.7 159.9L83.4 166.6H90.1Z" fill="#ff1212"/>
<path d="M107.6 141.2L104.2 147.9H110.9Z" fill="#ff1212"/>
<path d="M140.6 113.9L137.2 120.6H143.9Z" fill="#ff1212"/>
<path d="M112.7 140.0L109.3 146.7H116.0Z" fill="#ff1212"/>
<path d="M125.1 126.0L121.8 132.7H128.5Z" fill="#ff1212"/>
<path d="M134.4 125.1L131.1 131.8H137.8Z" fill="#ff1212"/>
<path d="M141.2 114.1L137.8 120.8H144.5Z" fill="#ff1212"/>
<path d="M136.8 119.7L133.4 126.4H140.1Z" fill="#ff1212"/>
<path d="M82.2 162.7L78.9 169.4H85.6Z" fill="#ff1212"/>
<path d="M112.1 140.7L108.8 147.4H115.5Z" fill="#ff1212"/>
<path d="M115.2 138.8L111.9 145.5H118.6Z" fill="#ff1212"/>
<path d="M85.7 161.2L82.4 167.9H89.1Z" fill="#ff1212"/>
<path d="M120.9 134.4L117.6 141.1H124.3Z" fill="#ff1212"/>
<path d="M125.7 126.7L122.4 133.4H129.1Z" fill="#ff1212"/>
<path d="M141.7 113.6L138.3 120.3H145.0Z" fill="#ff1212"/>
<path d="M149.9 105.4L146.5 112.1H153.2Z" fill="#ff1212"/>
<path d="M91.0 157.9L87.6 164.6H94.3Z" fill="#ff1212"/>
<path d="M98.4 148.4L95.0 155.1H101.7Z" fill="#ff1212"/>
<path d="M129.4 123.5L126.1 130.2H132.8Z" fill="#ff1212"/>
<path d="M91.3 154.8L88.0 161.5H94.7Z" fill="#ff1212"/>
<path d="M97.9 149.7L94.6 156.4H101.3Z" fill="#ff1212"/>
<path d="M123.3 130.7L120.0 137.4H126.7Z" fill="#ff1212"/>
<path d="M94.0 152.6L90.6 159.3H97.3Z" fill="#ff1212"/>
<path d="M138.3 114.3L135.0 121.0H141.7Z" fill="#ff1212"/>
<path d="M143.7 109.4L140.4 116.1H147.1Z" fill="#ff1212"/>
<path d="M84.2 162.6L80.8 169.3H87.5Z" fill="#ff1212"/>
<path d="M120.3 132.6L116.9 139.3H123.6Z" fill="#ff1212"/>
<path d="M139.4 112.3L136.1 119.0H142.8Z" fill="#ff1212"/>
<path d="M152.3 97.3L149.0 104.0H155.7Z" fill="#ff1212"/>
<path d="M101.6 149.9L98.2 156.6H104.9Z" fill="#ff1212"/>
<path d="M94.0 152.7L90.6 159.4H97.3Z" fill="#ff1212"/>
<path d="M145.2 109.7L141.8 116.4H148.5Z" fill="#ff1212"/>
<path d="M147.5 104.9L144.2 111.6H150.9Z" fill="#ff1212"/>
<path d="M96.0 151.3L92.7 158.0H99.4Z" fill="#ff1212"/>
<path d="M113.7 135.2L110.3 141.9H117.0Z" fill="#ff1212"/>
<path d="M133.8 125.7L130.4 132.4H137.1Z" fill="#ff1212"/>
<path d="M142.9 112.3L139.6 119.0H146.3Z" fill="#ff1212"/>
<path d="M93.9 156.3L90.5 163.0H97.2Z" fill="#ff1212"/>
<path d="M129.9 123.1L126.5 129.8H133.2Z" fill="#ff1212"/>
<path d="M140.2 115.1L136.8 121.8H143.5Z" fill="#ff1212"/>
<path d="M121.5 132.0L118.2 138.7H124.9Z" fill="#ff1212"/>
<path d="M93.6 152.6L90.3 159.3H97.0Z" fill="#ff1212"/>
<path d="M84.3 157.1L80.9 163.8H87.6Z" fill="#ff1212"/>
<path d="M102.1 154.1L98.7 160.8H105.4Z" fill="#ff1212"/>
<path d="M140.2 114.1L136.8 120.8H143.5Z" fill="#ff1212"/>
<path d="M85.0 160.3L81.6 167.0H88.3Z" fill="#ff1212"/>
<path d="M82.3 163.3L79.0 170.0H85.7Z" fill="#ff1212"/>
<path d="M107.9 143.7L104.5 150.4H111.2Z" fill="#ff1212"/>
<path d="M86.3 163.1L83.0 169.8H89.7Z" fill="#ff1212"/>
<path d="M92.5 157.3L89.2 164.0H95.9Z" fill="#ff1212"/>
<path d="M83.4 160.6L80.0 167.3H86.7Z" fill="#ff1212"/>
<path d="M119.7 129.6L116.3 136.3H123.0Z" fill="#ff1212"/>
<path d="M132.1 120.5L128.8 127.2H135.5Z" fill="#ff1212"/>
<path d="M112.6 140.5L109.3 147.2H116.0Z" fill="#ff1212"/>
<path d="M91.5 155.7L88.1 162.4H94.8Z" fill="#ff1212"/>
<path d="M105.7 145.3L102.4 152.0H109.1Z" fill="#ff1212"/>
<path d="M124.4 126.5L121.1 133.2H127.8Z" fill="#ff1212"/>
<path d="M149.8 104.4L146.5 111.1H153.2Z" fill="#ff1212"/>
<path d="M153.6 102.6L150.2 109.3H156.9Z" fill="#ff1212"/>
<path d="M99.2 149.4L95.9 156.1H102.6Z" fill="#ff1212"/>
<path d="M82.5 165.8L79.1 172.5H85.8Z" fill="#ff1212"/>
<path d="M141.8 110.0L138.5 116.7H145.2Z" fill="#ff1212"/>
<path d="M148.8 102.8L145.4 109.5H152.1Z" fill="#ff1212"/>
<path d="M114.9 139.2L111.6 145.9H118.3Z" fill="#ff1212"/>
<path d="M137.6 114.8L134.2 121.5H140.9Z" fill="#ff1212"/>
<path d="M144.4 111.9L141.1 118.6H147.8Z" fill="#ff1212"/>
<path d="M125.8 124.0L122.5 130.7H129.2Z" fill="#ff1212"/>
<path d="M144.9 107.0L141.5 113.7H148.2Z" fill="#ff1212"/>
<path d="M83.5 162.8L80.1 169.5H86.8Z" fill="#ff1212"/>
<path d="M101.4 145.8L98.0 152.5H104.7Z" fill="#ff1212"/>
<path d="M101.8 148.8L98.4 155.5H105.1Z" fill="#ff1212"/>
<path d="M90.5 158.2L87.1 164.9H93.8Z" fill="#ff1212"/>
<path d="M147.6 107.9L144.3 114.6H151.0Z" fill="#ff1212"/>
<path d="M83.9 162.2L80.6 168.9H87.3Z" fill="#ff1212"/>
<path d="M130.4 123.1L127.0 129.8H133.7Z" fill="#ff1212"/>
<path d="M86.9 159.2L83.5 165.9H90.2Z" fill="#ff1212"/>
<path d="M107.8 144.4L104.5 151.1H111.2Z" fill="#ff1212"/>
<path d="M112.0 137.4L108.6 144.1H115.3Z" fill="#ff1212"/>
<path d="M94.9 150.9L91.5 157.6H98.2Z" fill="#ff1212"/>
<path d="M119.4 133.5L116.1 140.2H122.8Z" fill="#ff1212"/>
<path d="M120.4 134.8L117.1 141.5H123.8Z" fill="#ff1212"/>
<path d="M104.7 143.9L101.3 150.6H108.0Z" fill="#ff1212"/>
<path d="M135.1 115.4L131.7 122.1H138.4Z" fill="#ff1212"/>
<path d="M93.3 154.8L90.0 161.5H96.7Z" fill="#ff1212"/>
<path d="M95.7 155.6L92.3 162.3H99.0Z" fill="#ff1212"/>
<path d="M107.4 142.8L104.0 149.5H110.7Z" fill="#ff1212"/>
<path d="M109.1 138.3L105.8 145.0H112.5Z" fill="#ff1212"/>
<path d="M96.7 156.2L93.3 162.9H100.0Z" fill="#ff1212"/>
<path d="M148.2 105.0L144.9 111.7H151.6Z" fill="#ff1212"/>
<path d="M141.7 112.8L138.3 119.5H145.0Z" fill="#ff1212"/>
<path d="M89.5 159.5L86.1 166.2H92.8Z" fill="#ff1212"/>
<path d="M108.5 141.2L105.1 147.9H111.8Z" fill="#ff1212"/>
<path d="M98.6 153.4L95.2 160.1H101.9Z" fill="#ff1212"/>
<path d="M114.4 136.3L111.0 143.0H117.7Z" fill="#ff1212"/>
<path d="M101.7 144.8L98.4 151.5H105.1Z" fill="#ff1212"/>
<path d="M118.0 133.2L114.7 139.9H121.4Z" fill="#ff1212"/>
<path d="M148.5 107.9L145.1 114.6H151.8Z" fill="#ff1212"/>
<path d="M109.4 145.7L106.1 152.4H112.8Z" fill="#ff1212"/>
<path d="M128.8 126.8L125.4 133.5H132.1Z" fill="#ff1212"/>
<path d="M124.8 131.7L121.5 138.4H128.2Z" fill="#ff1212"/>
<path d="M136.1 113.4L132.8 120.1H139.5Z" fill="#ff1212"/>
<path d="M86.2 160.6L82.8 167.3H89.5Z" fill="#ff1212"/>
<path d="M135.6 120.0L132.3 126.7H139.0Z" fill="#ff1212"/>
<path d="M150.2 107.3L146.9 114.0H153.6Z" fill="#ff1212"/>
<path d="M125.4 129.4L122.1 136.1H128.8Z" fill="#ff1212"/>
<path d="M102.5 148.0L99.2 154.7H105.9Z" fill="#ff1212"/>
<path d="M130.4 125.3L127.0 132.0H133.7Z" fill="#ff1212"/>
<path d="M133.3 115.9L129.9 122.6H136.6Z" fill="#ff1212"/>
<path d="M129.2 125.2L125.9 131.9H132.6Z" fill="#ff1212"/>
<path d="M92.4 157.0L89.0 163.7H95.7Z" fill="#ff1212"/>
<path d="M152.2 101.7L148.8 108.4H155.5Z" fill="#ff1212"/>
<path d="M150.9 100.3L147.5 107.0H154.2Z" fill="#ff1212"/>
<path d="M112.5 135.7L109.1 142.4H115.8Z" fill="#ff1212"/>
<path d="M124.7 128.7L121.3 135.4H128.0Z" fill="#ff1212"/>
<path d="M84.6 160.7L81.2 167.4H87.9Z" fill="#ff1212"/>
<path d="M153.3 101.1L149.9 107.8H156.6Z" fill="#ff1212"/>
<path d="M141.0 111.5L137.6 118.2H144.3Z" fill="#ff1212"/>
<path d="M127.8 124.1L124.4 130.8H131.1Z" fill="#ff1212"/>
<path d="M136.8 118.7L133.5 125.4H140.2Z" fill="#ff1212"/>
<path d="M95.3 155.8L92.0 162.5H98.7Z" fill="#ff1212"/>
<path d="M104.0 145.7L100.6 152.4H107.3Z" fill="#ff1212"/>
<path d="M99.6 152.3L96.2 159.0H102.9Z" fill="#ff1212"/>
<path d="M124.9 124.3L121.5 131.0H128.2Z" fill="#ff1212"/>
<path d="M88.4 158.2L85.0 164.9H91.7Z" fill="#ff1212"/>
<path d="M146.5 110.0L143.2 116.7H149.9Z" fill="#ff1212"/>
<path d="M115.2 137.0L111.8 143.7H118.5Z" fill="#ff1212"/>
<path d="M113.9 138.6L110.6 145.3H117.3Z" fill="#ff1212"/>
<path d="M89.3 157.9L85.9 164.6H92.6Z" fill="#ff1212"/>
<path d="M131.3 119.3L127.9 126.0H134.6Z" fill="#ff1212"/>
<path d="M140.8 116.2L137.5 122.9H144.2Z" fill="#ff1212"/>
<path d="M127.3 129.5L123.9 136.2H130.6Z" fill="#ff1212"/>
<path d="M99.2 149.0L95.9 155.7H102.6Z" fill="#ff1212"/>
<path d="M138.6 115.3L135.2 122.0H141.9Z" fill="#ff1212"/>
<path d="M92.3 154.9L88.9 161.6H95.6Z" fill="#ff1212"/>
<path d="M141.6 111.1L138.2 117.8H144.9Z" fill="#ff1212"/>
<path d="M123.8 128.8L120.4 135.5H127.1Z" fill="#ff1212"/>
<path d="M102.7 145.3L99.3 152.0H106.0Z" fill="#ff1212"/>
<path d="M118.9 135.0L115.5 141.7H122.2Z" fill="#ff1212"/>
<path d="M127.2 125.1L123.9 131.8H130.6Z" fill="#ff1212"/>
<path d="M100.4 150.8L97.1 157.5H103.8Z" fill="#ff1212"/>
<path d="M143.0 113.4L139.7 120.1H146.4Z" fill="#ff1212"/>
<path d="M112.2 137.5L108.9 144.2H115.6Z" fill="#ff1212"/>
<path d="M146.3 106.5L143.0 113.2H149.7Z" fill="#ff1212"/>
<path d="M142.2 116.1L138.8 122.8H145.5Z" fill="#ff1212"/>
<path d="M88.9 160.5L85.6 167.2H92.3Z" fill="#ff1212"/>
<path d="M128.5 123.4L125.1 130.1H131.8Z" fill="#ff1212"/>
<path d="M104.2 143.4L100.8 150.1H107.5Z" fill="#ff1212"/>
<path d="M136.3 118.5L132.9 125.2H139.6Z" fill="#ff1212"/>
<path d="M121.0 131.4L117.6 138.1H124.3Z" fill="#ff1212"/>
<path d="M114.8 139.8L111.5 146.5H118.2Z" fill="#ff1212"/>
<path d="M146.5 101.8L143.2 108.5H149.9Z" fill="#ff1212"/>
<path d="M85.9 159.2L82.5 165.9H89.2Z" fill="#ff1212"/>
<path d="M122.1 127.9L118.7 134.6H125.4Z" fill="#ff1212"/>
<path d="M105.5 143.4L102.1 150.1H108.8Z" fill="#ff1212"/>
<path d="M84.3 159.4L80.9 166.1H87.6Z" fill="#ff1212"/>
<path d="M136.3 115.6L132.9 122.3H139.6Z" fill="#ff1212"/>
<path d="M122.4 130.5L119.0 137.2H125.7Z" fill="#ff1212"/>
<path d="M146.4 106.0L143.1 112.7H149.8Z" fill="#ff1212"/>
<path d="M125.0 127.1L121.7 133.8H128.4Z" fill="#ff1212"/>
<path d="M106.1 141.4L102.8 148.1H109.5Z" fill="#ff1212"/>
<path d="M153.0 103.4L149.7 110.1H156.4Z" fill="#ff1212"/>
<path d="M90.1 158.2L86.7 164.9H93.4Z" fill="#ff1212"/>
<path d="M85.5 159.0L82.2 165.7H88.9Z" fill="#ff1212"/>
<path d="M134.7 115.4L131.4 122.1H138.1Z" fill="#ff1212"/>
<path d="M108.6 142.0L105.2 148.7H111.9Z" fill="#ff1212"/>
<path d="M107.9 144.6L104.5 151.3H111.2Z" fill="#ff1212"/>
<path d="M145.2 109.1L141.8 115.8H148.5Z" fill="#ff1212"/>
<path d="M105.4 146.1L102.1 152.8H108.8Z" fill="#ff1212"/>
<path d="M146.1 103.6L142.7 110.3H149.4Z" fill="#ff1212"/>
<path d="M128.3 122.2L125.0 128.9H131.7Z" fill="#ff1212"/>
<path d="M105.5 141.9L102.2 148.6H108.9Z" fill="#ff1212"/>
<path d="M86.0 159.5L82.7 166.2H89.4Z" fill="#ff1212"/>
<path d="M99.5 150.9L96.1 157.6H102.8Z" fill="#ff1212"/>
<path d="M151.8 100.1L148.5 106.8H155.2Z" fill="#ff1212"/>
<path d="M111.1 136.2L107.7 142.9H114.4Z" fill="#ff1212"/>
<path d="M93.3 153.1L90.0 159.8H96.7Z" fill="#ff1212"/>
<path d="M103.3 146.7L99.9 153.4H106.6Z" fill="#ff1212"/>
<path d="M146.8 104.8L143.5 111.5H150.2Z" fill="#ff1212"/>
<path d="M93.7 155.0L90.3 161.7H97.0Z" fill="#ff1212"/>
<path d="M138.0 113.6L134.7 120.3H141.4Z" fill="#ff1212"/>
<path d="M91.5 157.5L88.1 164.2H94.8Z" fill="#ff1212"/>
<path d="M151.3 105.5L148.0 112.2H154.7Z" fill="#ff1212"/>
<path d="M120.1 130.5L116.7 137.2H123.4Z" fill="#ff1212"/>
<path d="M84.8 160.3L81.5 167.0H88.2Z" fill="#ff1212"/>
<path d="M149.1 100.9L145.8 107.6H152.5Z" fill="#ff1212"/>
<path d="M107.6 143.8L104.3 150.5H111.0Z" fill="#ff1212"/>
<path d="M134.7 118.4L131.3 125.1H138.0Z" fill="#ff1212"/>
<path d="M119.6 134.8L116.3 141.5H123.0Z" fill="#ff1212"/>
<path d="M88.4 162.6L85.1 169.3H91.8Z" fill="#ff1212"/>
<path d="M89.4 161.7L86.0 168.4H92.7Z" fill="#ff1212"/>
<path d="M92.5 154.0L89.2 160.7H95.9Z" fill="#ff1212"/>
<path d="M93.4 157.1L90.0 163.8H96.7Z" fill="#ff1212"/>
<path d="M85.5 158.0L82.2 164.7H88.9Z" fill="#ff1212"/>
<path d="M85.1 157.6L81.8 164.3H88.5Z" fill="#ff1212"/>
<path d="M150.4 104.8L147.0 111.5H153.7Z" fill="#ff1212"/>
<path d="M88.3 154.5L85.0 161.2H91.7Z" fill="#ff1212"/>
<path d="M118.5 132.7L115.2 139.4H121.9Z" fill="#ff1212"/>
<path d="M90.3 154.2L87.0 160.9H93.7Z" fill="#ff1212"/>
<path d="M97.3 151.9L93.9 158.6H100.6Z" fill="#ff1212"/>
<path d="M137.0 114.1L133.6 120.8H140.3Z" fill="#ff1212"/>
<path d="M180.0 78.8L176.6 85.5H183.3Z" fill="#ff1212"/>
<path d="M162.4 91.7L159.0 98.4H165.7Z" fill="#ff1212"/>
<path d="M144.9 110.2L141.6 116.9H148.3Z" fill="#ff1212"/>
<path d="M182.3 75.2L178.9 81.9H185.6Z" fill="#ff1212"/>
<path d="M146.5 106.2L143.1 112.9H149.8Z" fill="#ff1212"/>
<path d="M159.3 95.5L156.0 102.2H162.7Z" fill="#ff1212"/>
<path d="M165.0 90.9L161.6 97.6H168.3Z" fill="#ff1212"/>
<path d="M178.2 77.4L174.9 84.1H181.6Z" fill="#ff1212"/>
<path d="M175.6 79.6L172.3 86.3H179.0Z" fill="#ff1212"/>
<path d="M167.6 90.9L164.3 97.6H171.0Z" fill="#ff1212"/>
<path d="M159.7 94.3L156.3 101.0H163.0Z" fill="#ff1212"/>
<path d="M176.1 79.4L172.7 86.1H179.4Z" fill="#ff1212"/>
<path d="M177.4 80.8L174.0 87.5H180.7Z" fill="#ff1212"/>
<path d="M177.5 78.7L174.1 85.4H180.8Z" fill="#ff1212"/>
<path d="M171.7 87.0L168.3 93.7H175.0Z" fill="#ff1212"/>
<path d="M148.4 102.6L145.0 109.3H151.7Z" fill="#ff1212"/>
<path d="M155.9 99.6L152.6 106.3H159.3Z" fill="#ff1212"/>
<path d="M163.0 92.8L159.6 99.5H166.3Z" fill="#ff1212"/>
<path d="M163.7 89.8L160.3 96.5H167.0Z" fill="#ff1212"/>
<path d="M176.0 80.9L172.7 87.6H179.4Z" fill="#ff1212"/>
<path d="M153.6 99.7L150.3 106.4H157.0Z" fill="#ff1212"/>
<path d="M169.7 88.4L166.3 95.1H173.0Z" fill="#ff1212"/>
<path d="M158.8 97.8L155.4 104.5H162.1Z" fill="#ff1212"/>
<path d="M173.9 85.2L170.5 91.9H177.2Z" fill="#ff1212"/>
<path d="M152.1 103.1L148.7 109.8H155.4Z" fill="#ff1212"/>
<path d="M162.6 90.5L159.3 97.2H166.0Z" fill="#ff1212"/>
<path d="M148.6 105.2L145.2 111.9H151.9Z" fill="#ff1212"/>
<path d="M152.7 100.0L149.3 106.7H156.0Z" fill="#ff1212"/>
<path d="M179.9 79.0L176.5 85.7H183.2Z" fill="#ff1212"/>
<path d="M156.6 100.5L153.2 107.2H159.9Z" fill="#ff1212"/>
<path d="M178.3 79.5L174.9 86.2H181.6Z" fill="#ff1212"/>
<path d="M164.4 90.3L161.1 97.0H167.8Z" fill="#ff1212"/>
<path d="M146.2 107.1L142.8 113.8H149.5Z" fill="#ff1212"/>
<path d="M174.5 82.1L171.2 88.8H177.9Z" fill="#ff1212"/>
<path d="M146.7 106.1L143.3 112.8H150.0Z" fill="#ff1212"/>
<path d="M175.8 81.2L172.4 87.9H179.1Z" fill="#ff1212"/>
<path d="M145.0 109.0L141.7 115.7H148.4Z" fill="#ff1212"/>
<path d="M170.0 83.8L166.7 90.5H173.4Z" fill="#ff1212"/>
<path d="M150.9 105.0L147.6 111.7H154.3Z" fill="#ff1212"/>
<path d="M157.6 97.1L154.2 103.8H160.9Z" fill="#ff1212"/>
<path d="M180.5 73.7L177.2 80.4H183.9Z" fill="#ff1212"/>
<path d="M163.0 92.4L159.6 99.1H166.3Z" fill="#ff1212"/>
<path d="M169.4 85.4L166.1 92.1H172.8Z" fill="#ff1212"/>
<path d="M172.6 84.9L169.2 91.6H175.9Z" fill="#ff1212"/>
<path d="M148.8 101.0L145.5 107.7H152.2Z" fill="#ff1212"/>
<path d="M176.2 84.5L172.9 91.2H179.6Z" fill="#ff1212"/>
<path d="M179.1 80.0L175.7 86.7H182.4Z" fill="#ff1212"/>
<path d="M150.5 106.4L147.2 113.1H153.9Z" fill="#ff1212"/>
<path d="M165.2 87.6L161.9 94.3H168.6Z" fill="#ff1212"/>
<path d="M155.4 98.7L152.0 105.4H158.7Z" fill="#ff1212"/>
<path d="M172.5 84.3L169.2 91.0H175.9Z" fill="#ff1212"/>
<path d="M145.8 111.3L142.4 118.0H149.1Z" fill="#ff1212"/>
<path d="M164.0 91.0L160.6 97.7H167.3Z" fill="#ff1212"/>
<path d="M174.5 81.9L171.2 88.6H177.9Z" fill="#ff1212"/>
<path d="M172.3 85.3L169.0 92.0H175.7Z" fill="#ff1212"/>
<path d="M148.8 109.0L145.4 115.7H152.1Z" fill="#ff1212"/>
<path d="M176.0 82.7L172.7 89.4H179.4Z" fill="#ff1212"/>
<path d="M153.6 100.6L150.3 107.3H157.0Z" fill="#ff1212"/>
<path d="M175.1 81.0L171.7 87.7H178.4Z" fill="#ff1212"/>
<path d="M163.4 92.1L160.0 98.8H166.7Z" fill="#ff1212"/>
<path d="M150.7 104.1L147.4 110.8H154.1Z" fill="#ff1212"/>
<path d="M172.3 87.3L168.9 94.0H175.6Z" fill="#ff1212"/>
<path d="M175.1 81.5L171.7 88.2H178.4Z" fill="#ff1212"/>
<path d="M171.0 87.2L167.6 93.9H174.3Z" fill="#ff1212"/>
<path d="M181.0 76.1L177.6 82.8H184.3Z" fill="#ff1212"/>
<path d="M154.3 99.4L151.0 106.1H157.7Z" fill="#ff1212"/>
<path d="M153.6 102.8L150.2 109.5H156.9Z" fill="#ff1212"/>
<path d="M150.2 106.6L146.9 113.3H153.6Z" fill="#ff1212"/>
<path d="M165.0 89.0L161.6 95.7H168.3Z" fill="#ff1212"/>
<path d="M159.7 94.8L156.4 101.5H163.1Z" fill="#ff1212"/>
<path d="M158.1 98.5L154.8 105.2H161.5Z" fill="#ff1212"/>
<path d="M162.0 100.4L158.7 107.1H165.4Z" fill="#ff1212"/>
<path d="M155.0 100.0L151.7 106.7H158.4Z" fill="#ff1212"/>
<path d="M144.9 107.7L141.5 114.4H148.2Z" fill="#ff1212"/>
<path d="M162.4 90.5L159.1 97.2H165.8Z" fill="#ff1212"/>
<path d="M155.1 101.4L151.7 108.1H158.4Z" fill="#ff1212"/>
<path d="M161.6 95.3L158.3 102.0H165.0Z" fill="#ff1212"/>
<path d="M179.6 78.2L176.3 84.9H183.0Z" fill="#ff1212"/>
<path d="M151.4 101.2L148.1 107.9H154.8Z" fill="#ff1212"/>
<path d="M168.7 89.5L165.3 96.2H172.0Z" fill="#ff1212"/>
<path d="M168.9 87.4L165.6 94.1H172.3Z" fill="#ff1212"/>
<path d="M155.3 101.8L151.9 108.5H158.6Z" fill="#ff1212"/>
<path d="M162.4 92.5L159.1 99.2H165.8Z" fill="#ff1212"/>
<path d="M181.2 78.8L177.8 85.5H184.5Z" fill="#ff1212"/>
<path d="M157.6 96.7L154.2 103.4H160.9Z" fill="#ff1212"/>
<path d="M171.5 85.7L168.1 92.4H174.8Z" fill="#ff1212"/>
<path d="M176.3 80.8L172.9 87.5H179.6Z" fill="#ff1212"/>
<path d="M158.3 95.7L154.9 102.4H161.6Z" fill="#ff1212"/>
<path d="M181.9 73.2L178.6 79.9H185.3Z" fill="#ff1212"/>
<path d="M168.2 90.9L164.9 97.6H171.6Z" fill="#ff1212"/>
<path d="M188.0 68.5L184.6 75.2H191.3Z" fill="#ff1212"/>
<path d="M192.4 65.0L189.0 71.7H195.7Z" fill="#ff1212"/>
<path d="M186.4 71.6L183.0 78.3H189.7Z" fill="#ff1212"/>
<path d="M192.3 64.0L189.0 70.7H195.7Z" fill="#ff1212"/>
<path d="M183.3 73.8L179.9 80.5H186.6Z" fill="#ff1212"/>
<path d="M196.8 60.1L193.4 66.8H200.1Z" fill="#ff1212"/>
<path d="M188.8 69.8L185.5 76.5H192.2Z" fill="#ff1212"/>
<path d="M182.6 75.8L179.2 82.5H185.9Z" fill="#ff1212"/>
<path d="M186.6 69.4L183.3 76.1H190.0Z" fill="#ff1212"/>
<path d="M196.1 59.6L192.8 66.3H199.5Z" fill="#ff1212"/>
<path d="M194.3 63.2L190.9 69.9H197.6Z" fill="#ff1212"/>
<path d="M187.6 68.9L184.3 75.6H191.0Z" fill="#ff1212"/>
<path d="M184.9 73.2L181.5 79.9H188.2Z" fill="#ff1212"/>
<path d="M185.4 73.8L182.0 80.5H188.7Z" fill="#ff1212"/>
<path d="M197.9 61.0L194.5 67.7H201.2Z" fill="#ff1212"/>
<path d="M179.9 74.4L176.6 81.1H183.3Z" fill="#ff1212"/>
<path d="M196.0 64.8L192.6 71.5H199.3Z" fill="#ff1212"/>
<path d="M195.3 63.7L192.0 70.4H198.7Z" fill="#ff1212"/>
<path d="M182.2 78.5L178.9 85.2H185.6Z" fill="#ff1212"/>
<path d="M184.8 72.5L181.5 79.2H188.2Z" fill="#ff1212"/>
<path d="M189.4 67.4L186.0 74.1H192.7Z" fill="#ff1212"/>
<path d="M194.2 65.7L190.8 72.4H197.5Z" fill="#ff1212"/>
<path d="M197.3 61.8L193.9 68.5H200.6Z" fill="#ff1212"/>
<path d="M198.1 58.8L194.8 65.5H201.5Z" fill="#ff1212"/>
<path d="M133.6 133.1L130.2 139.8H136.9Z" fill="#ff1212"/>
<path d="M144.5 124.0L141.2 130.7H147.8Z" fill="#ff1212"/>
<path d="M153.6 114.9L150.2 121.5H156.9Z" fill="#ff1212"/>
<path d="M140.0 124.0L136.7 130.7H143.3Z" fill="#ff1212"/>
<path d="M218.2 45.3L214.8 52.0H221.5Z" fill="#ff1212"/>
<path d="M209.0 53.1L205.7 59.8H212.3Z" fill="#ff1212"/>
<path d="M191.8 68.5L188.5 75.1H195.2Z" fill="#ff1212"/>
<path d="M184.5 74.0L181.2 80.6H187.8Z" fill="#ff1212"/>
<path d="M213.0 48.6L209.7 55.4H216.3Z" fill="#ff1212"/>
<path d="M205.0 56.6L201.7 63.4H208.3Z" fill="#ff1212"/>
<path d="M80.5 160.7L77.2 167.3H83.8Z" fill="#ff1212"/>
<path d="M83.0 160.2L79.7 166.8H86.3Z" fill="#ff1212"/>
<path d="M196.0 64.6L192.7 71.3H199.3Z" fill="#ff1212"/>
<path d="M200.0 62.6L196.7 69.3H203.3Z" fill="#ff1212"/>
</g>
<line x1="55.4" y1="194.2" x2="243.4" y2="22.5" stroke="#000" stroke-width="1.1"/>
<rect x="55.4" y="22.5" width="188.00" height="171.70" fill="none" stroke="#2a2a2a" stroke-width="0.8"/>
<g stroke="#2a2a2a" stroke-width="0.8">
<line x1="83.60" y1="194.2" x2="83.60" y2="197.1"/>
<line x1="130.60" y1="194.2" x2="130.60" y2="197.1"/>
<line x1="177.60" y1="194.2" x2="177.60" y2="197.1"/>
<line x1="224.60" y1="194.2" x2="224.60" y2="197.1"/>
<line x1="55.4" y1="168.44" x2="52.5" y2="168.44"/>
<line x1="55.4" y1="125.52" x2="52.5" y2="125.52"/>
<line x1="55.4" y1="82.59" x2="52.5" y2="82.59"/>
<line x1="55.4" y1="39.67" x2="52.5" y2="39.67"/>
</g>
<text x="83.60" y="206.60" font-family="Liberation Sans, sans-serif" font-size="10.3" text-anchor="middle" fill="#161616" stroke="#161616" stroke-width="0.3" textLength="22.3" lengthAdjust="spacingAndGlyphs">−0.5</text>
<text x="130.60" y="206.60" font-family="Liberation Sans, sans-serif" font-size="10.3" text-anchor="middle" fill="#161616" stroke="#161616" stroke-width="0.3" textLength="14.6" lengthAdjust="spacingAndGlyphs">0.0</text>
<text x="177.60" y="206.60" font-family="Liberation Sans, sans-serif" font-size="10.3" text-anchor="middle" fill="#161616" stroke="#161616" stroke-width="0.3" textLength="14.6" lengthAdjust="spacingAndGlyphs">0.5</text>
<text x="224.60" y="206.60" font-family="Liberation Sans, sans-serif" font-size="10.3" text-anchor="middle" fill="#161616" stroke="#161616" stroke-width="0.3" textLength="14.6" lengthAdjust="spacingAndGlyphs">1.0</text>
<text x="50.30" y="172.14" font-family="Liberation Sans, sans-serif" font-size="10.3" text-anchor="end" fill="#161616" stroke="#161616" stroke-width="0.3" textLength="22.3" lengthAdjust="spacingAndGlyphs">−0.5</text>
<text x="50.30" y="129.22" font-family="Liberation Sans, sans-serif" font-size="10.3" text-anchor="end" fill="#161616" stroke="#161616" stroke-width="0.3" textLength="14.6" lengthAdjust="spacingAndGlyphs">0.0</text>
<text x="50.30" y="86.30" font-family="Liberation Sans, sans-serif" font-size="10.3" text-anchor="end" fill="#161616" stroke="#161616" stroke-width="0.3" textLength="14.6" lengthAdjust="spacingAndGlyphs">0.5</text>
<text x="50.30" y="43.37" font-family="Liberation Sans, sans-serif" font-size="10.3" text-anchor="end" fill="#161616" stroke="#161616" stroke-width="0.3" textLength="14.6" lengthAdjust="spacingAndGlyphs">1.0</text>
<text x="149.40" y="14.20" font-family="Liberation Sans, sans-serif" font-size="11.65" text-anchor="middle" fill="#161616" stroke="#161616" stroke-width="0.3" textLength="150.9" lengthAdjust="spacingAndGlyphs">Decomposition Energy (eV)</text>
<text x="149.10" y="219.80" font-family="Liberation Sans, sans-serif" font-size="11.65" text-anchor="middle" fill="#161616" stroke="#161616" stroke-width="0.3" textLength="49.8" lengthAdjust="spacingAndGlyphs">DFT data</text>
<text transform="translate(18.3 108.75) rotate(-90)" font-family="Liberation Sans, sans-serif" font-size="11.65" text-anchor="middle" fill="#161616" stroke="#161616" stroke-width="0.3" textLength="74.5" lengthAdjust="spacingAndGlyphs">ML prediction</text>
<rect x="60.60" y="28.10" width="61.9" height="34.4" rx="2.2" ry="2.2" fill="#fff" fill-opacity="0.8" stroke="#d4d4d4" stroke-width="0.9"/>
<g stroke="#000" stroke-width="0.7">
<path d="M76.4 34.4L73.1 41.1H79.8Z" fill="#1212ff"/>
<path d="M76.4 50.6L73.1 57.3H79.8Z" fill="#ff1212"/>
</g>
<text x="96.50" y="40.60" font-family="Liberation Sans, sans-serif" font-size="11.65" text-anchor="start" fill="#161616" stroke="#161616" stroke-width="0.3" textLength="21.1" lengthAdjust="spacingAndGlyphs">PBE</text>
<text x="96.50" y="56.80" font-family="Liberation Sans, sans-serif" font-size="11.65" text-anchor="start" fill="#161616" stroke="#161616" stroke-width="0.3" textLength="22.2" lengthAdjust="spacingAndGlyphs">HSE</text>
<text x="224.40" y="167.00" font-family="Liberation Sans, sans-serif" font-size="10.2" text-anchor="end" fill="#161616" stroke="#161616" stroke-width="0.3" textLength="96.8" lengthAdjust="spacingAndGlyphs">PBE rmse = 0.03 eV</text>
<text x="224.40" y="184.00" font-family="Liberation Sans, sans-serif" font-size="10.2" text-anchor="end" fill="#161616" stroke="#161616" stroke-width="0.3" textLength="97.3" lengthAdjust="spacingAndGlyphs">HSE rmse = 0.03 eV</text>
<text x="5.00" y="24.80" font-family="Liberation Serif, serif" font-size="16.4" text-anchor="start" fill="#111" stroke="#111" stroke-width="0.3">(a)</text>
<g stroke="#000" stroke-width="0.5" stroke-linejoin="miter">
<path d="M85.8 383.1L82.5 389.8H89.2Z" fill="#1212ff"/>
<path d="M145.3 331.0L141.9 337.7H148.6Z" fill="#1212ff"/>
<path d="M173.7 309.6L170.4 316.3H177.1Z" fill="#1212ff"/>
<path d="M115.2 355.8L111.8 362.5H118.5Z" fill="#1212ff"/>
<path d="M128.1 347.4L124.8 354.1H131.5Z" fill="#1212ff"/>
<path d="M112.2 357.2L108.8 363.9H115.5Z" fill="#1212ff"/>
<path d="M173.9 308.6L170.5 315.3H177.2Z" fill="#1212ff"/>
<path d="M160.5 317.9L157.2 324.6H163.9Z" fill="#1212ff"/>
<path d="M173.5 308.0L170.1 314.7H176.8Z" fill="#1212ff"/>
<path d="M115.3 357.3L112.0 364.0H118.7Z" fill="#1212ff"/>
<path d="M107.6 368.7L104.3 375.4H111.0Z" fill="#1212ff"/>
<path d="M78.2 391.7L74.9 398.4H81.6Z" fill="#1212ff"/>
<path d="M84.8 388.4L81.4 395.1H88.1Z" fill="#1212ff"/>
<path d="M171.0 311.9L167.7 318.6H174.4Z" fill="#1212ff"/>
<path d="M134.7 340.1L131.4 346.8H138.1Z" fill="#1212ff"/>
<path d="M119.9 354.7L116.5 361.4H123.2Z" fill="#1212ff"/>
<path d="M91.0 388.5L87.6 395.2H94.3Z" fill="#1212ff"/>
<path d="M168.5 312.1L165.2 318.8H171.9Z" fill="#1212ff"/>
<path d="M79.1 392.5L75.8 399.2H82.5Z" fill="#1212ff"/>
<path d="M139.8 336.7L136.5 343.4H143.2Z" fill="#1212ff"/>
<path d="M136.0 334.3L132.6 341.0H139.3Z" fill="#1212ff"/>
<path d="M147.1 332.9L143.8 339.6H150.5Z" fill="#1212ff"/>
<path d="M148.8 329.5L145.4 336.2H152.1Z" fill="#1212ff"/>
<path d="M143.8 339.1L140.4 345.8H147.1Z" fill="#1212ff"/>
<path d="M130.7 350.2L127.3 356.9H134.0Z" fill="#1212ff"/>
<path d="M119.3 357.8L116.0 364.5H122.7Z" fill="#1212ff"/>
<path d="M154.5 324.7L151.1 331.4H157.8Z" fill="#1212ff"/>
<path d="M88.7 384.4L85.3 391.1H92.0Z" fill="#1212ff"/>
<path d="M104.2 367.9L100.8 374.6H107.5Z" fill="#1212ff"/>
<path d="M155.2 321.9L151.8 328.6H158.5Z" fill="#1212ff"/>
<path d="M164.7 312.9L161.3 319.6H168.0Z" fill="#1212ff"/>
<path d="M140.3 337.4L136.9 344.1H143.6Z" fill="#1212ff"/>
<path d="M81.9 389.2L78.6 395.9H85.3Z" fill="#1212ff"/>
<path d="M159.3 321.8L156.0 328.5H162.7Z" fill="#1212ff"/>
<path d="M172.7 307.4L169.4 314.1H176.1Z" fill="#1212ff"/>
<path d="M120.8 353.1L117.5 359.8H124.2Z" fill="#1212ff"/>
<path d="M115.0 361.5L111.7 368.2H118.4Z" fill="#1212ff"/>
<path d="M113.3 371.6L110.0 378.3H116.7Z" fill="#1212ff"/>
<path d="M135.5 343.2L132.2 349.9H138.9Z" fill="#1212ff"/>
<path d="M93.6 371.4L90.3 378.1H97.0Z" fill="#1212ff"/>
<path d="M89.2 383.8L85.8 390.5H92.5Z" fill="#1212ff"/>
<path d="M173.1 309.5L169.7 316.2H176.4Z" fill="#1212ff"/>
<path d="M125.6 349.9L122.2 356.6H128.9Z" fill="#1212ff"/>
<path d="M128.3 344.2L125.0 350.9H131.7Z" fill="#1212ff"/>
<path d="M107.4 365.8L104.0 372.5H110.7Z" fill="#1212ff"/>
<path d="M80.2 392.2L76.8 398.9H83.5Z" fill="#1212ff"/>
<path d="M82.5 392.3L79.2 399.0H85.9Z" fill="#1212ff"/>
<path d="M81.6 391.1L78.2 397.8H84.9Z" fill="#1212ff"/>
<path d="M144.0 337.5L140.6 344.2H147.3Z" fill="#1212ff"/>
<path d="M154.0 323.9L150.7 330.6H157.4Z" fill="#1212ff"/>
<path d="M171.8 305.3L168.5 312.0H175.2Z" fill="#1212ff"/>
<path d="M174.7 303.9L171.3 310.6H178.0Z" fill="#1212ff"/>
<path d="M91.1 383.7L87.7 390.4H94.4Z" fill="#1212ff"/>
<path d="M79.3 394.6L76.0 401.3H82.7Z" fill="#1212ff"/>
<path d="M145.1 337.0L141.7 343.7H148.4Z" fill="#1212ff"/>
<path d="M105.1 367.6L101.7 374.3H108.4Z" fill="#1212ff"/>
<path d="M167.5 311.4L164.2 318.1H170.9Z" fill="#1212ff"/>
<path d="M124.3 348.9L121.0 355.6H127.7Z" fill="#1212ff"/>
<path d="M120.0 354.3L116.7 361.0H123.4Z" fill="#1212ff"/>
<path d="M119.8 359.4L116.4 366.1H123.1Z" fill="#1212ff"/>
<path d="M106.0 374.3L102.6 381.0H109.3Z" fill="#1212ff"/>
<path d="M131.1 341.7L127.7 348.4H134.4Z" fill="#1212ff"/>
<path d="M95.6 380.3L92.3 387.0H99.0Z" fill="#1212ff"/>
<path d="M173.0 303.4L169.6 310.1H176.3Z" fill="#1212ff"/>
<path d="M154.3 329.7L151.0 336.4H157.7Z" fill="#1212ff"/>
<path d="M159.8 322.4L156.4 329.1H163.1Z" fill="#1212ff"/>
<path d="M169.1 313.8L165.7 320.5H172.4Z" fill="#1212ff"/>
<path d="M143.3 333.4L140.0 340.1H146.7Z" fill="#1212ff"/>
<path d="M165.8 312.7L162.5 319.4H169.2Z" fill="#1212ff"/>
<path d="M150.3 329.8L147.0 336.5H153.7Z" fill="#1212ff"/>
<path d="M123.2 350.6L119.8 357.3H126.5Z" fill="#1212ff"/>
<path d="M78.8 395.7L75.5 402.4H82.2Z" fill="#1212ff"/>
<path d="M126.7 350.9L123.4 357.6H130.1Z" fill="#1212ff"/>
<path d="M130.7 349.4L127.4 356.1H134.1Z" fill="#1212ff"/>
<path d="M150.5 329.7L147.1 336.4H153.8Z" fill="#1212ff"/>
<path d="M162.0 319.3L158.7 326.0H165.4Z" fill="#1212ff"/>
<path d="M137.9 338.1L134.5 344.8H141.2Z" fill="#1212ff"/>
<path d="M87.1 378.4L83.8 385.1H90.5Z" fill="#1212ff"/>
<path d="M86.5 388.8L83.2 395.5H89.9Z" fill="#1212ff"/>
<path d="M161.6 318.6L158.3 325.3H165.0Z" fill="#1212ff"/>
<path d="M161.9 316.3L158.5 323.0H165.2Z" fill="#1212ff"/>
<path d="M115.8 359.0L112.5 365.7H119.2Z" fill="#1212ff"/>
<path d="M84.5 385.0L81.1 391.7H87.8Z" fill="#1212ff"/>
<path d="M86.7 388.0L83.3 394.7H90.0Z" fill="#1212ff"/>
<path d="M87.6 383.4L84.3 390.1H91.0Z" fill="#1212ff"/>
<path d="M166.2 316.0L162.9 322.7H169.6Z" fill="#1212ff"/>
<path d="M117.3 355.3L113.9 362.0H120.6Z" fill="#1212ff"/>
<path d="M123.6 351.6L120.3 358.3H127.0Z" fill="#1212ff"/>
<path d="M156.2 322.3L152.8 329.0H159.5Z" fill="#1212ff"/>
<path d="M100.3 375.3L97.0 382.0H103.7Z" fill="#1212ff"/>
<path d="M128.9 353.1L125.6 359.8H132.3Z" fill="#1212ff"/>
<path d="M133.0 347.0L129.7 353.7H136.4Z" fill="#1212ff"/>
<path d="M116.4 356.5L113.1 363.2H119.8Z" fill="#1212ff"/>
<path d="M89.3 384.1L85.9 390.8H92.6Z" fill="#1212ff"/>
<path d="M118.5 354.4L115.2 361.1H121.9Z" fill="#1212ff"/>
<path d="M88.3 387.1L85.0 393.8H91.7Z" fill="#1212ff"/>
<path d="M109.3 363.2L106.0 369.9H112.7Z" fill="#1212ff"/>
<path d="M115.7 356.1L112.4 362.8H119.1Z" fill="#1212ff"/>
<path d="M95.9 384.5L92.5 391.2H99.2Z" fill="#1212ff"/>
<path d="M174.6 305.9L171.2 312.6H177.9Z" fill="#1212ff"/>
<path d="M144.5 327.1L141.2 333.8H147.9Z" fill="#1212ff"/>
<path d="M168.8 313.6L165.4 320.3H172.1Z" fill="#1212ff"/>
<path d="M168.3 309.7L165.0 316.4H171.7Z" fill="#1212ff"/>
<path d="M103.5 370.4L100.1 377.1H106.8Z" fill="#1212ff"/>
<path d="M92.3 378.0L89.0 384.7H95.7Z" fill="#1212ff"/>
<path d="M174.5 307.6L171.2 314.3H177.9Z" fill="#1212ff"/>
<path d="M125.8 352.5L122.5 359.2H129.2Z" fill="#1212ff"/>
<path d="M141.3 337.5L137.9 344.2H144.6Z" fill="#1212ff"/>
<path d="M162.0 318.6L158.7 325.3H165.4Z" fill="#1212ff"/>
<path d="M110.7 365.7L107.4 372.4H114.1Z" fill="#1212ff"/>
<path d="M136.0 343.6L132.6 350.3H139.3Z" fill="#1212ff"/>
<path d="M107.1 363.7L103.8 370.4H110.5Z" fill="#1212ff"/>
<path d="M97.5 377.8L94.1 384.5H100.8Z" fill="#1212ff"/>
<path d="M80.6 393.9L77.3 400.6H84.0Z" fill="#1212ff"/>
<path d="M98.4 378.1L95.0 384.8H101.7Z" fill="#1212ff"/>
<path d="M101.3 370.9L98.0 377.6H104.7Z" fill="#1212ff"/>
<path d="M151.1 334.4L147.8 341.1H154.5Z" fill="#1212ff"/>
<path d="M126.9 347.5L123.6 354.2H130.3Z" fill="#1212ff"/>
<path d="M152.7 324.2L149.3 330.9H156.0Z" fill="#1212ff"/>
<path d="M104.9 365.1L101.6 371.8H108.3Z" fill="#1212ff"/>
<path d="M97.7 377.2L94.4 383.9H101.1Z" fill="#1212ff"/>
<path d="M135.0 344.3L131.6 351.0H138.3Z" fill="#1212ff"/>
<path d="M102.3 371.0L99.0 377.7H105.7Z" fill="#1212ff"/>
<path d="M152.2 325.9L148.8 332.6H155.5Z" fill="#1212ff"/>
<path d="M113.1 357.6L109.7 364.3H116.4Z" fill="#1212ff"/>
<path d="M103.7 370.2L100.3 376.9H107.0Z" fill="#1212ff"/>
<path d="M150.2 329.6L146.8 336.3H153.5Z" fill="#1212ff"/>
<path d="M95.1 382.3L91.8 389.0H98.5Z" fill="#1212ff"/>
<path d="M147.6 331.1L144.3 337.8H151.0Z" fill="#1212ff"/>
<path d="M115.5 359.3L112.1 366.0H118.8Z" fill="#1212ff"/>
<path d="M85.0 385.0L81.7 391.7H88.4Z" fill="#1212ff"/>
<path d="M140.6 336.3L137.2 343.0H143.9Z" fill="#1212ff"/>
<path d="M137.0 335.5L133.7 342.2H140.4Z" fill="#1212ff"/>
<path d="M86.2 383.7L82.9 390.4H89.6Z" fill="#1212ff"/>
<path d="M122.3 355.7L119.0 362.4H125.7Z" fill="#1212ff"/>
<path d="M122.8 356.4L119.4 363.1H126.1Z" fill="#1212ff"/>
<path d="M147.0 333.0L143.7 339.7H150.4Z" fill="#1212ff"/>
<path d="M95.0 379.0L91.6 385.7H98.3Z" fill="#1212ff"/>
<path d="M131.0 347.8L127.7 354.5H134.4Z" fill="#1212ff"/>
<path d="M174.6 304.9L171.3 311.6H178.0Z" fill="#1212ff"/>
<path d="M78.9 391.5L75.6 398.2H82.3Z" fill="#1212ff"/>
<path d="M147.7 326.5L144.4 333.2H151.1Z" fill="#1212ff"/>
<path d="M111.0 362.7L107.7 369.4H114.4Z" fill="#1212ff"/>
<path d="M125.0 352.2L121.6 358.9H128.3Z" fill="#1212ff"/>
<path d="M104.0 368.7L100.6 375.4H107.3Z" fill="#1212ff"/>
<path d="M122.2 356.2L118.9 362.9H125.6Z" fill="#1212ff"/>
<path d="M126.8 348.7L123.5 355.4H130.2Z" fill="#1212ff"/>
<path d="M168.4 313.9L165.0 320.6H171.7Z" fill="#1212ff"/>
<path d="M164.0 313.1L160.6 319.8H167.3Z" fill="#1212ff"/>
<path d="M168.0 319.0L164.6 325.7H171.3Z" fill="#1212ff"/>
<path d="M172.2 306.6L168.9 313.3H175.6Z" fill="#1212ff"/>
<path d="M114.6 357.5L111.2 364.2H117.9Z" fill="#1212ff"/>
<path d="M154.5 324.4L151.1 331.1H157.8Z" fill="#1212ff"/>
<path d="M164.0 315.2L160.6 321.9H167.3Z" fill="#1212ff"/>
<path d="M86.9 385.2L83.6 391.9H90.3Z" fill="#1212ff"/>
<path d="M147.7 326.2L144.4 332.9H151.1Z" fill="#1212ff"/>
<path d="M133.7 337.6L130.4 344.3H137.1Z" fill="#1212ff"/>
<path d="M94.1 379.0L90.8 385.7H97.5Z" fill="#1212ff"/>
<path d="M137.5 334.2L134.2 340.9H140.9Z" fill="#1212ff"/>
<path d="M145.4 334.4L142.0 341.1H148.7Z" fill="#1212ff"/>
<path d="M141.2 334.8L137.8 341.5H144.5Z" fill="#1212ff"/>
<path d="M77.2 393.6L73.8 400.3H80.5Z" fill="#1212ff"/>
<path d="M166.3 317.1L162.9 323.8H169.6Z" fill="#1212ff"/>
<path d="M112.7 361.0L109.4 367.7H116.1Z" fill="#1212ff"/>
<path d="M156.7 324.0L153.3 330.7H160.0Z" fill="#1212ff"/>
<path d="M92.5 378.0L89.1 384.7H95.8Z" fill="#1212ff"/>
<path d="M134.9 344.5L131.6 351.2H138.3Z" fill="#1212ff"/>
<path d="M82.9 392.9L79.5 399.6H86.2Z" fill="#1212ff"/>
<path d="M132.6 348.0L129.2 354.7H135.9Z" fill="#1212ff"/>
<path d="M140.1 337.0L136.8 343.7H143.5Z" fill="#1212ff"/>
<path d="M114.6 359.3L111.2 366.0H117.9Z" fill="#1212ff"/>
<path d="M147.0 329.9L143.6 336.6H150.3Z" fill="#1212ff"/>
<path d="M123.9 354.2L120.6 360.9H127.3Z" fill="#1212ff"/>
<path d="M81.9 388.6L78.6 395.3H85.3Z" fill="#1212ff"/>
<path d="M80.2 392.9L76.8 399.6H83.5Z" fill="#1212ff"/>
<path d="M80.2 392.2L76.9 398.9H83.6Z" fill="#1212ff"/>
<path d="M108.5 362.8L105.2 369.5H111.9Z" fill="#1212ff"/>
<path d="M169.0 311.9L165.7 318.6H172.4Z" fill="#1212ff"/>
<path d="M110.5 370.0L107.2 376.7H113.9Z" fill="#1212ff"/>
<path d="M157.8 319.7L154.4 326.4H161.1Z" fill="#1212ff"/>
<path d="M141.5 335.8L138.1 342.5H144.8Z" fill="#1212ff"/>
<path d="M145.4 333.6L142.0 340.3H148.7Z" fill="#1212ff"/>
<path d="M141.2 332.0L137.9 338.7H144.6Z" fill="#1212ff"/>
<path d="M96.9 378.5L93.5 385.2H100.2Z" fill="#1212ff"/>
<path d="M162.4 315.7L159.1 322.4H165.8Z" fill="#1212ff"/>
<path d="M119.4 355.5L116.1 362.2H122.8Z" fill="#1212ff"/>
<path d="M167.5 306.5L164.2 313.2H170.9Z" fill="#1212ff"/>
<path d="M77.6 397.8L74.3 404.5H81.0Z" fill="#1212ff"/>
<path d="M87.6 384.6L84.3 391.3H91.0Z" fill="#1212ff"/>
<path d="M89.2 382.9L85.8 389.6H92.5Z" fill="#1212ff"/>
<path d="M149.1 325.6L145.8 332.3H152.5Z" fill="#1212ff"/>
<path d="M85.3 388.0L81.9 394.7H88.6Z" fill="#1212ff"/>
<path d="M120.2 357.2L116.9 363.9H123.6Z" fill="#1212ff"/>
<path d="M128.1 343.6L124.7 350.3H131.4Z" fill="#1212ff"/>
<path d="M127.6 349.8L124.2 356.5H130.9Z" fill="#1212ff"/>
<path d="M107.0 366.4L103.6 373.1H110.3Z" fill="#1212ff"/>
<path d="M165.8 314.5L162.4 321.2H169.1Z" fill="#1212ff"/>
<path d="M121.4 352.9L118.0 359.6H124.7Z" fill="#1212ff"/>
<path d="M94.6 382.9L91.2 389.6H97.9Z" fill="#1212ff"/>
<path d="M132.0 346.1L128.6 352.8H135.3Z" fill="#1212ff"/>
<path d="M88.2 384.6L84.9 391.3H91.6Z" fill="#1212ff"/>
<path d="M142.1 334.9L138.8 341.6H145.5Z" fill="#1212ff"/>
<path d="M93.0 376.6L89.7 383.3H96.4Z" fill="#1212ff"/>
<path d="M165.0 313.8L161.6 320.5H168.3Z" fill="#1212ff"/>
<path d="M83.9 387.3L80.5 394.0H87.2Z" fill="#1212ff"/>
<path d="M108.0 366.5L104.7 373.2H111.4Z" fill="#1212ff"/>
<path d="M98.6 370.9L95.3 377.6H102.0Z" fill="#1212ff"/>
<path d="M132.4 346.0L129.0 352.7H135.7Z" fill="#1212ff"/>
<path d="M116.9 358.5L113.6 365.2H120.3Z" fill="#1212ff"/>
<path d="M121.3 358.9L117.9 365.6H124.6Z" fill="#1212ff"/>
<path d="M120.6 358.1L117.3 364.8H124.0Z" fill="#1212ff"/>
<path d="M138.0 336.2L134.7 342.9H141.4Z" fill="#1212ff"/>
<path d="M102.5 371.5L99.1 378.2H105.8Z" fill="#1212ff"/>
<path d="M108.6 371.7L105.2 378.4H111.9Z" fill="#1212ff"/>
<path d="M100.3 373.6L96.9 380.3H103.6Z" fill="#1212ff"/>
<path d="M91.5 382.2L88.1 388.9H94.8Z" fill="#1212ff"/>
<path d="M136.8 343.6L133.5 350.3H140.2Z" fill="#1212ff"/>
<path d="M168.3 311.3L165.0 318.0H171.7Z" fill="#1212ff"/>
<path d="M167.7 313.3L164.3 320.0H171.0Z" fill="#1212ff"/>
<path d="M173.4 307.5L170.1 314.2H176.8Z" fill="#1212ff"/>
<path d="M87.1 383.5L83.8 390.2H90.5Z" fill="#1212ff"/>
<path d="M146.1 333.8L142.7 340.5H149.4Z" fill="#1212ff"/>
<path d="M84.4 385.8L81.0 392.5H87.7Z" fill="#1212ff"/>
<path d="M156.6 323.1L153.3 329.8H160.0Z" fill="#1212ff"/>
<path d="M160.2 320.0L156.8 326.7H163.5Z" fill="#1212ff"/>
<path d="M122.6 348.9L119.3 355.6H126.0Z" fill="#1212ff"/>
<path d="M175.0 305.3L171.6 312.0H178.3Z" fill="#1212ff"/>
<path d="M123.8 353.2L120.4 359.9H127.1Z" fill="#1212ff"/>
<path d="M128.6 347.9L125.3 354.6H132.0Z" fill="#1212ff"/>
<path d="M109.2 364.5L105.9 371.2H112.6Z" fill="#1212ff"/>
<path d="M156.7 326.0L153.3 332.7H160.0Z" fill="#1212ff"/>
<path d="M132.9 341.5L129.5 348.2H136.2Z" fill="#1212ff"/>
<path d="M124.1 351.6L120.8 358.3H127.5Z" fill="#1212ff"/>
<path d="M118.7 360.6L115.4 367.3H122.1Z" fill="#1212ff"/>
<path d="M150.7 330.7L147.3 337.4H154.0Z" fill="#1212ff"/>
<path d="M83.0 387.5L79.6 394.2H86.3Z" fill="#1212ff"/>
<path d="M139.6 341.5L136.3 348.2H143.0Z" fill="#1212ff"/>
<path d="M82.0 385.8L78.6 392.5H85.3Z" fill="#1212ff"/>
<path d="M96.8 380.0L93.4 386.7H100.1Z" fill="#1212ff"/>
<path d="M79.2 392.3L75.8 399.0H82.5Z" fill="#1212ff"/>
<path d="M128.5 355.7L125.2 362.4H131.9Z" fill="#1212ff"/>
<path d="M169.3 311.5L166.0 318.2H172.7Z" fill="#1212ff"/>
<path d="M96.9 378.2L93.5 384.9H100.2Z" fill="#1212ff"/>
<path d="M88.2 383.5L84.9 390.2H91.6Z" fill="#1212ff"/>
<path d="M128.1 347.4L124.7 354.1H131.4Z" fill="#1212ff"/>
<path d="M78.1 394.4L74.7 401.1H81.4Z" fill="#1212ff"/>
<path d="M110.9 356.9L107.6 363.6H114.3Z" fill="#1212ff"/>
<path d="M120.9 352.2L117.5 358.9H124.2Z" fill="#1212ff"/>
<path d="M86.8 387.3L83.5 394.0H90.2Z" fill="#1212ff"/>
<path d="M163.1 316.0L159.7 322.7H166.4Z" fill="#1212ff"/>
<path d="M114.7 369.4L111.4 376.1H118.1Z" fill="#1212ff"/>
<path d="M134.4 344.1L131.0 350.8H137.7Z" fill="#1212ff"/>
<path d="M87.5 382.6L84.1 389.3H90.8Z" fill="#1212ff"/>
<path d="M173.5 308.9L170.2 315.6H176.9Z" fill="#1212ff"/>
<path d="M95.3 377.6L91.9 384.3H98.6Z" fill="#1212ff"/>
<path d="M123.2 356.1L119.9 362.8H126.6Z" fill="#1212ff"/>
<path d="M84.9 385.9L81.6 392.6H88.3Z" fill="#1212ff"/>
<path d="M91.3 381.3L88.0 388.0H94.7Z" fill="#1212ff"/>
<path d="M90.3 382.6L87.0 389.3H93.7Z" fill="#1212ff"/>
<path d="M114.4 357.7L111.0 364.4H117.7Z" fill="#1212ff"/>
<path d="M84.8 384.3L81.4 391.0H88.1Z" fill="#1212ff"/>
<path d="M123.3 349.9L120.0 356.6H126.7Z" fill="#1212ff"/>
<path d="M131.2 350.7L127.9 357.4H134.6Z" fill="#1212ff"/>
<path d="M94.8 377.3L91.4 384.0H98.1Z" fill="#1212ff"/>
<path d="M153.1 325.0L149.7 331.7H156.4Z" fill="#1212ff"/>
<path d="M84.1 390.6L80.7 397.3H87.4Z" fill="#1212ff"/>
<path d="M134.0 347.8L130.6 354.5H137.3Z" fill="#1212ff"/>
<path d="M155.7 324.4L152.4 331.1H159.1Z" fill="#1212ff"/>
<path d="M137.9 340.1L134.5 346.8H141.2Z" fill="#1212ff"/>
<path d="M76.4 395.5L73.1 402.2H79.8Z" fill="#1212ff"/>
<path d="M85.3 388.7L82.0 395.4H88.7Z" fill="#1212ff"/>
<path d="M81.9 390.0L78.6 396.7H85.3Z" fill="#1212ff"/>
<path d="M89.8 382.5L86.5 389.2H93.2Z" fill="#1212ff"/>
<path d="M130.0 347.3L126.6 354.0H133.3Z" fill="#1212ff"/>
<path d="M171.6 308.5L168.2 315.2H174.9Z" fill="#1212ff"/>
<path d="M112.4 364.3L109.1 371.0H115.8Z" fill="#1212ff"/>
<path d="M155.9 327.1L152.5 333.8H159.2Z" fill="#1212ff"/>
<path d="M103.6 370.5L100.3 377.2H107.0Z" fill="#1212ff"/>
<path d="M173.7 305.3L170.4 312.0H177.1Z" fill="#1212ff"/>
<path d="M114.5 352.0L111.2 358.7H117.9Z" fill="#1212ff"/>
<path d="M97.0 383.3L93.6 390.0H100.3Z" fill="#1212ff"/>
<path d="M94.7 380.3L91.4 387.0H98.1Z" fill="#1212ff"/>
<path d="M86.7 387.7L83.4 394.4H90.1Z" fill="#1212ff"/>
<path d="M83.4 388.4L80.0 395.1H86.7Z" fill="#1212ff"/>
<path d="M168.7 314.0L165.4 320.7H172.1Z" fill="#1212ff"/>
<path d="M146.1 331.6L142.8 338.3H149.5Z" fill="#1212ff"/>
<path d="M89.3 380.5L86.0 387.2H92.7Z" fill="#1212ff"/>
<path d="M134.7 344.5L131.4 351.2H138.1Z" fill="#1212ff"/>
<path d="M122.6 353.4L119.3 360.1H126.0Z" fill="#1212ff"/>
<path d="M84.2 384.9L80.8 391.6H87.5Z" fill="#1212ff"/>
<path d="M173.3 305.7L169.9 312.4H176.6Z" fill="#1212ff"/>
<path d="M100.7 378.3L97.4 385.0H104.1Z" fill="#1212ff"/>
<path d="M133.5 336.6L130.1 343.3H136.8Z" fill="#1212ff"/>
<path d="M113.3 363.8L110.0 370.5H116.7Z" fill="#1212ff"/>
<path d="M125.6 349.4L122.3 356.1H129.0Z" fill="#1212ff"/>
<path d="M173.7 308.5L170.4 315.2H177.1Z" fill="#1212ff"/>
<path d="M152.3 327.5L149.0 334.2H155.7Z" fill="#1212ff"/>
<path d="M100.0 376.0L96.7 382.7H103.4Z" fill="#1212ff"/>
<path d="M146.5 329.6L143.2 336.3H149.9Z" fill="#1212ff"/>
<path d="M122.7 355.5L119.3 362.2H126.0Z" fill="#1212ff"/>
<path d="M175.2 309.3L171.8 316.0H178.5Z" fill="#1212ff"/>
<path d="M194.6 290.0L191.3 296.7H198.0Z" fill="#1212ff"/>
<path d="M175.0 306.4L171.6 313.1H178.3Z" fill="#1212ff"/>
<path d="M209.5 279.3L206.2 286.0H212.9Z" fill="#1212ff"/>
<path d="M178.5 301.9L175.2 308.6H181.9Z" fill="#1212ff"/>
<path d="M166.8 315.3L163.5 322.0H170.2Z" fill="#1212ff"/>
<path d="M212.7 271.8L209.3 278.5H216.0Z" fill="#1212ff"/>
<path d="M172.0 305.6L168.7 312.3H175.4Z" fill="#1212ff"/>
<path d="M203.9 280.2L200.6 286.9H207.3Z" fill="#1212ff"/>
<path d="M212.8 272.0L209.4 278.7H216.1Z" fill="#1212ff"/>
<path d="M203.7 281.8L200.3 288.5H207.0Z" fill="#1212ff"/>
<path d="M217.1 270.3L213.8 277.0H220.5Z" fill="#1212ff"/>
<path d="M177.2 307.6L173.9 314.3H180.6Z" fill="#1212ff"/>
<path d="M181.4 301.0L178.1 307.7H184.8Z" fill="#1212ff"/>
<path d="M197.4 287.5L194.1 294.2H200.8Z" fill="#1212ff"/>
<path d="M169.5 316.9L166.2 323.6H172.9Z" fill="#1212ff"/>
<path d="M219.1 266.9L215.8 273.6H222.5Z" fill="#1212ff"/>
<path d="M197.3 284.1L193.9 290.8H200.6Z" fill="#1212ff"/>
<path d="M201.0 282.7L197.6 289.4H204.3Z" fill="#1212ff"/>
<path d="M195.6 286.1L192.2 292.8H198.9Z" fill="#1212ff"/>
<path d="M189.7 293.9L186.3 300.6H193.0Z" fill="#1212ff"/>
<path d="M174.7 309.0L171.4 315.7H178.1Z" fill="#1212ff"/>
<path d="M168.4 311.9L165.1 318.6H171.8Z" fill="#1212ff"/>
<path d="M176.9 305.2L173.5 311.9H180.2Z" fill="#1212ff"/>
<path d="M162.7 320.0L159.3 326.7H166.0Z" fill="#1212ff"/>
<path d="M198.2 284.0L194.9 290.7H201.6Z" fill="#1212ff"/>
<path d="M172.6 308.0L169.2 314.7H175.9Z" fill="#1212ff"/>
<path d="M215.7 271.5L212.3 278.2H219.0Z" fill="#1212ff"/>
<path d="M167.0 313.0L163.6 319.7H170.3Z" fill="#1212ff"/>
<path d="M180.1 302.0L176.8 308.7H183.5Z" fill="#1212ff"/>
<path d="M211.7 272.8L208.4 279.5H215.1Z" fill="#1212ff"/>
<path d="M197.9 283.3L194.6 290.0H201.3Z" fill="#1212ff"/>
<path d="M184.5 299.0L181.2 305.7H187.9Z" fill="#1212ff"/>
<path d="M204.4 282.4L201.0 289.1H207.7Z" fill="#1212ff"/>
<path d="M184.7 295.3L181.4 302.0H188.1Z" fill="#1212ff"/>
<path d="M170.6 304.4L167.2 311.1H173.9Z" fill="#1212ff"/>
<path d="M218.9 268.6L215.5 275.3H222.2Z" fill="#1212ff"/>
<path d="M211.0 276.1L207.7 282.8H214.4Z" fill="#1212ff"/>
<path d="M205.3 281.6L201.9 288.3H208.6Z" fill="#1212ff"/>
<path d="M178.4 303.3L175.0 310.0H181.7Z" fill="#1212ff"/>
<path d="M189.7 293.2L186.3 299.9H193.0Z" fill="#1212ff"/>
<path d="M166.2 314.7L162.9 321.4H169.6Z" fill="#1212ff"/>
<path d="M162.6 315.2L159.3 321.9H166.0Z" fill="#1212ff"/>
<path d="M216.3 271.3L212.9 278.0H219.6Z" fill="#1212ff"/>
<path d="M186.6 297.0L183.3 303.7H190.0Z" fill="#1212ff"/>
<path d="M174.5 309.8L171.1 316.5H177.8Z" fill="#1212ff"/>
<path d="M209.3 273.5L206.0 280.2H212.7Z" fill="#1212ff"/>
<path d="M192.1 289.3L188.8 296.0H195.5Z" fill="#1212ff"/>
<path d="M198.9 282.9L195.6 289.6H202.3Z" fill="#1212ff"/>
<path d="M167.6 314.9L164.3 321.6H171.0Z" fill="#1212ff"/>
<path d="M185.0 295.2L181.7 301.9H188.4Z" fill="#1212ff"/>
<path d="M186.8 295.3L183.4 302.0H190.1Z" fill="#1212ff"/>
<path d="M178.7 301.8L175.3 308.5H182.0Z" fill="#1212ff"/>
<path d="M172.0 307.5L168.7 314.2H175.4Z" fill="#1212ff"/>
<path d="M212.6 273.7L209.2 280.4H215.9Z" fill="#1212ff"/>
<path d="M203.9 281.1L200.6 287.8H207.3Z" fill="#1212ff"/>
<path d="M194.1 292.1L190.8 298.8H197.5Z" fill="#1212ff"/>
<path d="M176.4 306.0L173.1 312.7H179.8Z" fill="#1212ff"/>
<path d="M197.9 286.5L194.5 293.2H201.2Z" fill="#1212ff"/>
<path d="M185.6 299.0L182.2 305.7H188.9Z" fill="#1212ff"/>
<path d="M160.1 319.2L156.8 325.9H163.5Z" fill="#1212ff"/>
<path d="M199.2 282.7L195.8 289.4H202.5Z" fill="#1212ff"/>
<path d="M199.2 285.8L195.9 292.5H202.6Z" fill="#1212ff"/>
<path d="M218.4 269.6L215.0 276.3H221.7Z" fill="#1212ff"/>
<path d="M209.0 277.8L205.6 284.5H212.3Z" fill="#1212ff"/>
<path d="M164.6 315.1L161.2 321.8H167.9Z" fill="#1212ff"/>
<path d="M180.1 298.8L176.7 305.5H183.4Z" fill="#1212ff"/>
<path d="M163.8 315.7L160.5 322.4H167.2Z" fill="#1212ff"/>
<path d="M164.9 315.1L161.5 321.8H168.2Z" fill="#1212ff"/>
<path d="M188.3 296.6L185.0 303.3H191.7Z" fill="#1212ff"/>
<path d="M172.8 307.5L169.4 314.2H176.1Z" fill="#1212ff"/>
<path d="M165.1 313.5L161.7 320.2H168.4Z" fill="#1212ff"/>
<path d="M197.4 287.2L194.1 293.9H200.8Z" fill="#1212ff"/>
<path d="M215.2 270.8L211.8 277.5H218.5Z" fill="#1212ff"/>
<path d="M210.5 276.0L207.2 282.7H213.9Z" fill="#1212ff"/>
<path d="M163.0 315.1L159.6 321.8H166.3Z" fill="#1212ff"/>
<path d="M178.0 301.3L174.7 308.0H181.4Z" fill="#1212ff"/>
<path d="M162.7 316.3L159.3 323.0H166.0Z" fill="#1212ff"/>
<path d="M185.0 296.6L181.7 303.3H188.4Z" fill="#1212ff"/>
<path d="M214.7 271.2L211.4 277.9H218.1Z" fill="#1212ff"/>
<path d="M172.1 310.4L168.8 317.1H175.5Z" fill="#1212ff"/>
<path d="M204.1 281.9L200.7 288.6H207.4Z" fill="#1212ff"/>
<path d="M190.0 293.7L186.7 300.4H193.4Z" fill="#1212ff"/>
<path d="M190.1 292.8L186.7 299.5H193.4Z" fill="#1212ff"/>
<path d="M210.6 274.9L207.2 281.6H213.9Z" fill="#1212ff"/>
<path d="M180.0 300.1L176.6 306.8H183.3Z" fill="#1212ff"/>
<path d="M180.2 300.4L176.8 307.1H183.5Z" fill="#1212ff"/>
<path d="M203.4 278.6L200.1 285.3H206.8Z" fill="#1212ff"/>
<path d="M168.5 310.2L165.1 316.9H171.8Z" fill="#1212ff"/>
<path d="M169.2 312.0L165.8 318.7H172.5Z" fill="#1212ff"/>
<path d="M75.0 396.2L71.7 403.0H78.3Z" fill="#1212ff"/>
<path d="M77.0 393.6L73.7 400.4H80.3Z" fill="#1212ff"/>
<path d="M85.0 391.0L81.7 397.7H88.4Z" fill="#ff1212"/>
<path d="M144.7 337.8L141.4 344.5H148.1Z" fill="#ff1212"/>
<path d="M174.2 309.7L170.8 316.4H177.5Z" fill="#ff1212"/>
<path d="M114.9 362.8L111.6 369.5H118.3Z" fill="#ff1212"/>
<path d="M127.5 349.3L124.1 356.0H130.8Z" fill="#ff1212"/>
<path d="M113.5 358.1L110.2 364.8H116.9Z" fill="#ff1212"/>
<path d="M173.1 305.3L169.8 312.0H176.5Z" fill="#ff1212"/>
<path d="M160.4 320.9L157.0 327.6H163.7Z" fill="#ff1212"/>
<path d="M172.0 307.6L168.7 314.3H175.4Z" fill="#ff1212"/>
<path d="M114.6 357.6L111.3 364.3H118.0Z" fill="#ff1212"/>
<path d="M107.7 362.1L104.4 368.8H111.1Z" fill="#ff1212"/>
<path d="M78.1 394.1L74.8 400.8H81.5Z" fill="#ff1212"/>
<path d="M84.1 389.9L80.8 396.6H87.5Z" fill="#ff1212"/>
<path d="M170.8 308.2L167.5 314.9H174.2Z" fill="#ff1212"/>
<path d="M134.1 337.6L130.8 344.3H137.5Z" fill="#ff1212"/>
<path d="M120.5 356.9L117.2 363.6H123.9Z" fill="#ff1212"/>
<path d="M92.1 374.6L88.7 381.3H95.4Z" fill="#ff1212"/>
<path d="M169.0 307.3L165.7 314.0H172.4Z" fill="#ff1212"/>
<path d="M80.4 392.3L77.1 399.0H83.8Z" fill="#ff1212"/>
<path d="M140.5 342.2L137.1 348.9H143.8Z" fill="#ff1212"/>
<path d="M135.6 343.3L132.2 350.0H138.9Z" fill="#ff1212"/>
<path d="M148.6 330.9L145.3 337.6H152.0Z" fill="#ff1212"/>
<path d="M149.9 326.9L146.5 333.6H153.2Z" fill="#ff1212"/>
<path d="M143.0 340.2L139.7 346.9H146.4Z" fill="#ff1212"/>
<path d="M131.1 337.3L127.7 344.0H134.4Z" fill="#ff1212"/>
<path d="M119.3 348.4L115.9 355.1H122.6Z" fill="#ff1212"/>
<path d="M155.6 325.4L152.2 332.1H158.9Z" fill="#ff1212"/>
<path d="M89.6 387.3L86.3 394.0H93.0Z" fill="#ff1212"/>
<path d="M104.4 370.4L101.0 377.1H107.7Z" fill="#ff1212"/>
<path d="M153.6 324.2L150.3 330.9H157.0Z" fill="#ff1212"/>
<path d="M164.2 312.5L160.8 319.2H167.5Z" fill="#ff1212"/>
<path d="M141.8 333.4L138.5 340.1H145.2Z" fill="#ff1212"/>
<path d="M81.4 391.2L78.1 397.9H84.8Z" fill="#ff1212"/>
<path d="M158.4 326.1L155.1 332.8H161.8Z" fill="#ff1212"/>
<path d="M172.0 307.7L168.7 314.4H175.4Z" fill="#ff1212"/>
<path d="M121.9 351.0L118.6 357.7H125.3Z" fill="#ff1212"/>
<path d="M115.0 361.2L111.7 367.9H118.4Z" fill="#ff1212"/>
<path d="M111.3 362.7L107.9 369.4H114.6Z" fill="#ff1212"/>
<path d="M136.3 340.0L133.0 346.7H139.7Z" fill="#ff1212"/>
<path d="M93.3 380.9L89.9 387.6H96.6Z" fill="#ff1212"/>
<path d="M89.8 385.6L86.5 392.3H93.2Z" fill="#ff1212"/>
<path d="M174.2 306.2L170.9 312.9H177.6Z" fill="#ff1212"/>
<path d="M125.9 354.9L122.6 361.6H129.3Z" fill="#ff1212"/>
<path d="M127.3 344.3L123.9 351.0H130.6Z" fill="#ff1212"/>
<path d="M106.2 371.2L102.9 377.9H109.6Z" fill="#ff1212"/>
<path d="M80.9 390.2L77.6 396.9H84.3Z" fill="#ff1212"/>
<path d="M82.9 391.0L79.5 397.7H86.2Z" fill="#ff1212"/>
<path d="M82.3 389.1L79.0 395.8H85.7Z" fill="#ff1212"/>
<path d="M145.8 332.9L142.5 339.6H149.2Z" fill="#ff1212"/>
<path d="M153.4 324.1L150.1 330.8H156.8Z" fill="#ff1212"/>
<path d="M170.3 312.6L167.0 319.3H173.7Z" fill="#ff1212"/>
<path d="M173.2 312.2L169.9 318.9H176.6Z" fill="#ff1212"/>
<path d="M91.4 382.7L88.1 389.4H94.8Z" fill="#ff1212"/>
<path d="M78.0 394.7L74.7 401.4H81.4Z" fill="#ff1212"/>
<path d="M144.0 338.9L140.7 345.6H147.4Z" fill="#ff1212"/>
<path d="M105.3 371.3L102.0 378.0H108.7Z" fill="#ff1212"/>
<path d="M167.5 317.4L164.1 324.1H170.8Z" fill="#ff1212"/>
<path d="M124.6 351.0L121.3 357.7H128.0Z" fill="#ff1212"/>
<path d="M119.7 357.1L116.4 363.8H123.1Z" fill="#ff1212"/>
<path d="M118.0 357.4L114.6 364.1H121.3Z" fill="#ff1212"/>
<path d="M106.8 359.0L103.4 365.7H110.1Z" fill="#ff1212"/>
<path d="M132.1 344.0L128.8 350.7H135.5Z" fill="#ff1212"/>
<path d="M94.7 377.5L91.4 384.2H98.1Z" fill="#ff1212"/>
<path d="M172.9 306.7L169.5 313.4H176.2Z" fill="#ff1212"/>
<path d="M156.0 323.5L152.7 330.2H159.4Z" fill="#ff1212"/>
<path d="M160.7 320.6L157.3 327.3H164.0Z" fill="#ff1212"/>
<path d="M169.8 308.8L166.4 315.5H173.1Z" fill="#ff1212"/>
<path d="M143.8 330.6L140.5 337.3H147.2Z" fill="#ff1212"/>
<path d="M165.4 322.4L162.1 329.1H168.8Z" fill="#ff1212"/>
<path d="M149.3 329.7L146.0 336.4H152.7Z" fill="#ff1212"/>
<path d="M123.3 353.7L119.9 360.4H126.6Z" fill="#ff1212"/>
<path d="M78.6 394.6L75.2 401.3H81.9Z" fill="#ff1212"/>
<path d="M127.3 344.8L124.0 351.5H130.7Z" fill="#ff1212"/>
<path d="M129.7 348.5L126.4 355.2H133.1Z" fill="#ff1212"/>
<path d="M149.1 326.5L145.8 333.2H152.5Z" fill="#ff1212"/>
<path d="M162.2 319.1L158.8 325.8H165.5Z" fill="#ff1212"/>
<path d="M138.5 340.1L135.2 346.8H141.9Z" fill="#ff1212"/>
<path d="M85.1 385.9L81.8 392.6H88.5Z" fill="#ff1212"/>
<path d="M85.6 388.6L82.2 395.3H88.9Z" fill="#ff1212"/>
<path d="M162.4 318.0L159.1 324.7H165.8Z" fill="#ff1212"/>
<path d="M163.4 319.5L160.0 326.2H166.7Z" fill="#ff1212"/>
<path d="M116.0 362.2L112.7 368.9H119.4Z" fill="#ff1212"/>
<path d="M83.3 387.6L79.9 394.3H86.6Z" fill="#ff1212"/>
<path d="M87.1 384.4L83.8 391.1H90.5Z" fill="#ff1212"/>
<path d="M87.8 387.4L84.5 394.1H91.2Z" fill="#ff1212"/>
<path d="M166.6 316.9L163.3 323.6H170.0Z" fill="#ff1212"/>
<path d="M116.6 350.3L113.2 357.0H119.9Z" fill="#ff1212"/>
<path d="M122.2 355.7L118.9 362.4H125.6Z" fill="#ff1212"/>
<path d="M157.3 324.3L153.9 331.0H160.6Z" fill="#ff1212"/>
<path d="M100.5 371.7L97.2 378.4H103.9Z" fill="#ff1212"/>
<path d="M129.0 349.9L125.7 356.6H132.4Z" fill="#ff1212"/>
<path d="M133.5 344.4L130.2 351.1H136.9Z" fill="#ff1212"/>
<path d="M117.5 355.0L114.1 361.7H120.8Z" fill="#ff1212"/>
<path d="M88.4 382.3L85.1 389.0H91.8Z" fill="#ff1212"/>
<path d="M118.3 357.8L115.0 364.5H121.7Z" fill="#ff1212"/>
<path d="M87.6 382.3L84.2 389.0H90.9Z" fill="#ff1212"/>
<path d="M107.8 367.2L104.5 373.9H111.2Z" fill="#ff1212"/>
<path d="M116.0 360.1L112.6 366.8H119.3Z" fill="#ff1212"/>
<path d="M95.3 378.2L91.9 384.9H98.6Z" fill="#ff1212"/>
<path d="M174.9 307.4L171.5 314.1H178.2Z" fill="#ff1212"/>
<path d="M144.5 331.6L141.2 338.3H147.9Z" fill="#ff1212"/>
<path d="M168.4 311.6L165.0 318.3H171.7Z" fill="#ff1212"/>
<path d="M168.4 314.2L165.1 320.9H171.8Z" fill="#ff1212"/>
<path d="M104.8 368.9L101.5 375.6H108.2Z" fill="#ff1212"/>
<path d="M90.8 384.1L87.5 390.8H94.2Z" fill="#ff1212"/>
<path d="M174.3 308.5L171.0 315.2H177.7Z" fill="#ff1212"/>
<path d="M126.8 349.8L123.5 356.5H130.2Z" fill="#ff1212"/>
<path d="M143.3 331.1L139.9 337.8H146.6Z" fill="#ff1212"/>
<path d="M162.0 317.2L158.6 323.9H165.3Z" fill="#ff1212"/>
<path d="M110.0 360.5L106.7 367.2H113.4Z" fill="#ff1212"/>
<path d="M134.9 336.8L131.6 343.5H138.3Z" fill="#ff1212"/>
<path d="M106.0 368.5L102.7 375.2H109.4Z" fill="#ff1212"/>
<path d="M97.8 378.0L94.4 384.7H101.1Z" fill="#ff1212"/>
<path d="M79.9 393.9L76.6 400.6H83.3Z" fill="#ff1212"/>
<path d="M99.8 373.2L96.4 379.9H103.1Z" fill="#ff1212"/>
<path d="M101.1 370.0L97.8 376.7H104.5Z" fill="#ff1212"/>
<path d="M150.2 323.1L146.8 329.8H153.5Z" fill="#ff1212"/>
<path d="M127.4 353.2L124.1 359.9H130.8Z" fill="#ff1212"/>
<path d="M152.8 323.7L149.4 330.4H156.1Z" fill="#ff1212"/>
<path d="M104.7 366.0L101.4 372.7H108.1Z" fill="#ff1212"/>
<path d="M97.5 368.1L94.2 374.8H100.9Z" fill="#ff1212"/>
<path d="M133.5 342.6L130.2 349.3H136.9Z" fill="#ff1212"/>
<path d="M103.3 371.0L99.9 377.7H106.6Z" fill="#ff1212"/>
<path d="M150.8 332.9L147.5 339.6H154.2Z" fill="#ff1212"/>
<path d="M114.2 363.5L110.8 370.2H117.5Z" fill="#ff1212"/>
<path d="M104.2 373.7L100.9 380.4H107.6Z" fill="#ff1212"/>
<path d="M150.8 331.2L147.5 337.9H154.2Z" fill="#ff1212"/>
<path d="M95.1 381.3L91.8 388.0H98.5Z" fill="#ff1212"/>
<path d="M148.0 335.4L144.6 342.1H151.3Z" fill="#ff1212"/>
<path d="M115.0 360.5L111.6 367.2H118.3Z" fill="#ff1212"/>
<path d="M84.9 386.8L81.6 393.5H88.3Z" fill="#ff1212"/>
<path d="M138.4 336.2L135.1 342.9H141.8Z" fill="#ff1212"/>
<path d="M136.6 340.7L133.2 347.4H139.9Z" fill="#ff1212"/>
<path d="M86.4 384.0L83.0 390.7H89.7Z" fill="#ff1212"/>
<path d="M121.9 350.3L118.5 357.0H125.2Z" fill="#ff1212"/>
<path d="M122.2 358.7L118.8 365.4H125.5Z" fill="#ff1212"/>
<path d="M147.1 332.0L143.8 338.7H150.5Z" fill="#ff1212"/>
<path d="M95.9 381.8L92.6 388.5H99.3Z" fill="#ff1212"/>
<path d="M131.7 348.1L128.4 354.8H135.1Z" fill="#ff1212"/>
<path d="M174.4 306.5L171.0 313.2H177.7Z" fill="#ff1212"/>
<path d="M78.1 394.1L74.7 400.8H81.4Z" fill="#ff1212"/>
<path d="M147.2 326.1L143.8 332.8H150.5Z" fill="#ff1212"/>
<path d="M111.0 357.0L107.7 363.7H114.4Z" fill="#ff1212"/>
<path d="M124.4 350.2L121.0 356.9H127.7Z" fill="#ff1212"/>
<path d="M104.3 370.5L101.0 377.2H107.7Z" fill="#ff1212"/>
<path d="M121.9 354.3L118.5 361.0H125.2Z" fill="#ff1212"/>
<path d="M125.4 350.7L122.0 357.4H128.7Z" fill="#ff1212"/>
<path d="M167.2 311.8L163.9 318.5H170.6Z" fill="#ff1212"/>
<path d="M162.6 319.2L159.3 325.9H166.0Z" fill="#ff1212"/>
<path d="M168.3 310.8L164.9 317.5H171.6Z" fill="#ff1212"/>
<path d="M171.9 309.7L168.6 316.4H175.3Z" fill="#ff1212"/>
<path d="M115.4 356.2L112.1 362.9H118.8Z" fill="#ff1212"/>
<path d="M153.5 321.9L150.2 328.6H156.9Z" fill="#ff1212"/>
<path d="M164.3 311.4L160.9 318.1H167.6Z" fill="#ff1212"/>
<path d="M88.1 385.0L84.7 391.7H91.4Z" fill="#ff1212"/>
<path d="M148.1 334.7L144.8 341.4H151.5Z" fill="#ff1212"/>
<path d="M133.4 348.9L130.1 355.6H136.8Z" fill="#ff1212"/>
<path d="M96.1 378.4L92.8 385.1H99.5Z" fill="#ff1212"/>
<path d="M138.8 343.1L135.4 349.8H142.1Z" fill="#ff1212"/>
<path d="M144.4 338.9L141.0 345.6H147.7Z" fill="#ff1212"/>
<path d="M141.0 337.6L137.6 344.3H144.3Z" fill="#ff1212"/>
<path d="M77.1 396.8L73.8 403.5H80.5Z" fill="#ff1212"/>
<path d="M167.7 311.0L164.4 317.7H171.1Z" fill="#ff1212"/>
<path d="M111.2 357.2L107.8 363.9H114.5Z" fill="#ff1212"/>
<path d="M155.6 324.1L152.3 330.8H159.0Z" fill="#ff1212"/>
<path d="M91.7 380.3L88.4 387.0H95.1Z" fill="#ff1212"/>
<path d="M135.9 346.2L132.5 352.9H139.2Z" fill="#ff1212"/>
<path d="M82.2 389.6L78.9 396.3H85.6Z" fill="#ff1212"/>
<path d="M131.4 347.4L128.1 354.1H134.8Z" fill="#ff1212"/>
<path d="M140.4 340.6L137.0 347.3H143.7Z" fill="#ff1212"/>
<path d="M114.7 366.5L111.4 373.2H118.1Z" fill="#ff1212"/>
<path d="M147.3 325.5L144.0 332.2H150.7Z" fill="#ff1212"/>
<path d="M123.3 357.9L120.0 364.6H126.7Z" fill="#ff1212"/>
<path d="M82.1 392.7L78.7 399.4H85.4Z" fill="#ff1212"/>
<path d="M80.4 391.7L77.0 398.4H83.7Z" fill="#ff1212"/>
<path d="M81.5 390.0L78.2 396.7H84.9Z" fill="#ff1212"/>
<path d="M110.0 363.7L106.6 370.4H113.3Z" fill="#ff1212"/>
<path d="M168.1 312.2L164.7 318.9H171.4Z" fill="#ff1212"/>
<path d="M108.9 368.6L105.6 375.3H112.3Z" fill="#ff1212"/>
<path d="M156.9 320.4L153.5 327.1H160.2Z" fill="#ff1212"/>
<path d="M140.1 336.6L136.7 343.3H143.4Z" fill="#ff1212"/>
<path d="M145.8 337.0L142.5 343.7H149.2Z" fill="#ff1212"/>
<path d="M141.2 330.9L137.8 337.6H144.5Z" fill="#ff1212"/>
<path d="M96.4 378.2L93.1 384.9H99.8Z" fill="#ff1212"/>
<path d="M162.5 314.9L159.2 321.6H165.9Z" fill="#ff1212"/>
<path d="M117.8 362.4L114.4 369.1H121.1Z" fill="#ff1212"/>
<path d="M168.7 315.0L165.3 321.7H172.0Z" fill="#ff1212"/>
<path d="M78.1 395.0L74.7 401.7H81.4Z" fill="#ff1212"/>
<path d="M87.9 386.3L84.5 393.0H91.2Z" fill="#ff1212"/>
<path d="M89.8 380.9L86.4 387.6H93.1Z" fill="#ff1212"/>
<path d="M148.2 335.4L144.9 342.1H151.6Z" fill="#ff1212"/>
<path d="M87.1 385.2L83.7 391.9H90.4Z" fill="#ff1212"/>
<path d="M119.1 359.7L115.7 366.4H122.4Z" fill="#ff1212"/>
<path d="M127.2 347.2L123.8 353.9H130.5Z" fill="#ff1212"/>
<path d="M127.2 348.2L123.9 354.9H130.6Z" fill="#ff1212"/>
<path d="M105.6 370.5L102.2 377.2H108.9Z" fill="#ff1212"/>
<path d="M163.5 310.8L160.1 317.5H166.8Z" fill="#ff1212"/>
<path d="M121.1 354.6L117.8 361.3H124.5Z" fill="#ff1212"/>
<path d="M93.8 375.8L90.5 382.5H97.2Z" fill="#ff1212"/>
<path d="M131.5 349.4L128.2 356.1H134.9Z" fill="#ff1212"/>
<path d="M87.6 385.3L84.3 392.0H91.0Z" fill="#ff1212"/>
<path d="M142.5 334.7L139.2 341.4H145.9Z" fill="#ff1212"/>
<path d="M93.6 379.1L90.3 385.8H97.0Z" fill="#ff1212"/>
<path d="M164.3 316.6L161.0 323.3H167.7Z" fill="#ff1212"/>
<path d="M84.3 389.9L80.9 396.6H87.6Z" fill="#ff1212"/>
<path d="M107.1 377.6L103.7 384.3H110.4Z" fill="#ff1212"/>
<path d="M97.8 377.7L94.5 384.4H101.2Z" fill="#ff1212"/>
<path d="M132.7 346.9L129.3 353.6H136.0Z" fill="#ff1212"/>
<path d="M116.5 359.5L113.1 366.2H119.8Z" fill="#ff1212"/>
<path d="M121.1 351.6L117.8 358.3H124.5Z" fill="#ff1212"/>
<path d="M120.7 347.4L117.3 354.1H124.0Z" fill="#ff1212"/>
<path d="M136.9 338.3L133.5 345.0H140.2Z" fill="#ff1212"/>
<path d="M102.4 368.2L99.0 374.9H105.7Z" fill="#ff1212"/>
<path d="M108.3 364.1L104.9 370.8H111.6Z" fill="#ff1212"/>
<path d="M102.0 369.5L98.6 376.2H105.3Z" fill="#ff1212"/>
<path d="M90.8 380.2L87.5 386.9H94.2Z" fill="#ff1212"/>
<path d="M138.1 339.8L134.7 346.5H141.4Z" fill="#ff1212"/>
<path d="M168.6 312.8L165.3 319.5H172.0Z" fill="#ff1212"/>
<path d="M166.1 313.3L162.7 320.0H169.4Z" fill="#ff1212"/>
<path d="M171.7 304.6L168.3 311.3H175.0Z" fill="#ff1212"/>
<path d="M87.4 383.6L84.0 390.3H90.7Z" fill="#ff1212"/>
<path d="M147.2 325.5L143.8 332.2H150.5Z" fill="#ff1212"/>
<path d="M83.9 391.2L80.5 397.9H87.2Z" fill="#ff1212"/>
<path d="M156.9 321.6L153.6 328.3H160.3Z" fill="#ff1212"/>
<path d="M159.7 318.7L156.4 325.4H163.1Z" fill="#ff1212"/>
<path d="M123.8 350.2L120.4 356.9H127.1Z" fill="#ff1212"/>
<path d="M173.8 310.8L170.5 317.5H177.2Z" fill="#ff1212"/>
<path d="M122.2 359.5L118.9 366.2H125.6Z" fill="#ff1212"/>
<path d="M129.9 353.4L126.5 360.1H133.2Z" fill="#ff1212"/>
<path d="M109.9 366.0L106.5 372.7H113.2Z" fill="#ff1212"/>
<path d="M157.2 315.9L153.9 322.6H160.6Z" fill="#ff1212"/>
<path d="M132.1 343.6L128.8 350.3H135.5Z" fill="#ff1212"/>
<path d="M125.9 354.0L122.5 360.7H129.2Z" fill="#ff1212"/>
<path d="M118.4 355.7L115.1 362.4H121.8Z" fill="#ff1212"/>
<path d="M150.8 328.6L147.5 335.3H154.2Z" fill="#ff1212"/>
<path d="M83.6 388.3L80.3 395.0H87.0Z" fill="#ff1212"/>
<path d="M138.9 339.7L135.5 346.4H142.2Z" fill="#ff1212"/>
<path d="M83.7 391.3L80.4 398.0H87.1Z" fill="#ff1212"/>
<path d="M97.9 377.3L94.6 384.0H101.3Z" fill="#ff1212"/>
<path d="M79.8 390.6L76.4 397.3H83.1Z" fill="#ff1212"/>
<path d="M127.7 347.3L124.4 354.0H131.1Z" fill="#ff1212"/>
<path d="M169.6 307.9L166.2 314.6H172.9Z" fill="#ff1212"/>
<path d="M97.5 379.5L94.2 386.2H100.9Z" fill="#ff1212"/>
<path d="M87.7 382.7L84.3 389.4H91.0Z" fill="#ff1212"/>
<path d="M128.4 347.4L125.1 354.1H131.8Z" fill="#ff1212"/>
<path d="M78.6 392.8L75.2 399.5H81.9Z" fill="#ff1212"/>
<path d="M111.1 359.3L107.8 366.0H114.5Z" fill="#ff1212"/>
<path d="M120.4 355.4L117.1 362.1H123.8Z" fill="#ff1212"/>
<path d="M84.2 387.6L80.8 394.3H87.5Z" fill="#ff1212"/>
<path d="M164.0 314.3L160.6 321.0H167.3Z" fill="#ff1212"/>
<path d="M114.4 358.3L111.0 365.0H117.7Z" fill="#ff1212"/>
<path d="M134.4 339.4L131.1 346.1H137.8Z" fill="#ff1212"/>
<path d="M87.6 382.2L84.3 388.9H91.0Z" fill="#ff1212"/>
<path d="M172.0 307.5L168.7 314.2H175.4Z" fill="#ff1212"/>
<path d="M94.5 380.1L91.1 386.8H97.8Z" fill="#ff1212"/>
<path d="M122.5 344.8L119.1 351.5H125.8Z" fill="#ff1212"/>
<path d="M85.2 387.2L81.9 393.9H88.6Z" fill="#ff1212"/>
<path d="M92.0 379.6L88.7 386.3H95.4Z" fill="#ff1212"/>
<path d="M89.9 384.4L86.6 391.1H93.3Z" fill="#ff1212"/>
<path d="M114.5 367.5L111.2 374.2H117.9Z" fill="#ff1212"/>
<path d="M85.2 388.8L81.8 395.5H88.5Z" fill="#ff1212"/>
<path d="M122.6 352.7L119.2 359.4H125.9Z" fill="#ff1212"/>
<path d="M132.3 342.3L128.9 349.0H135.6Z" fill="#ff1212"/>
<path d="M95.3 377.7L92.0 384.4H98.7Z" fill="#ff1212"/>
<path d="M152.2 324.2L148.9 330.9H155.6Z" fill="#ff1212"/>
<path d="M84.0 386.1L80.7 392.8H87.4Z" fill="#ff1212"/>
<path d="M133.2 339.9L129.9 346.6H136.6Z" fill="#ff1212"/>
<path d="M156.4 322.6L153.0 329.3H159.7Z" fill="#ff1212"/>
<path d="M137.1 339.3L133.7 346.0H140.4Z" fill="#ff1212"/>
<path d="M77.0 395.1L73.6 401.8H80.3Z" fill="#ff1212"/>
<path d="M83.9 390.2L80.6 396.9H87.3Z" fill="#ff1212"/>
<path d="M81.1 387.8L77.7 394.5H84.4Z" fill="#ff1212"/>
<path d="M89.3 386.1L85.9 392.8H92.6Z" fill="#ff1212"/>
<path d="M128.4 347.8L125.1 354.5H131.8Z" fill="#ff1212"/>
<path d="M171.1 309.0L167.8 315.7H174.5Z" fill="#ff1212"/>
<path d="M112.9 368.8L109.5 375.5H116.2Z" fill="#ff1212"/>
<path d="M154.3 322.5L150.9 329.2H157.6Z" fill="#ff1212"/>
<path d="M103.2 371.8L99.8 378.5H106.5Z" fill="#ff1212"/>
<path d="M172.4 307.8L169.1 314.5H175.8Z" fill="#ff1212"/>
<path d="M114.3 361.6L110.9 368.3H117.6Z" fill="#ff1212"/>
<path d="M95.8 382.5L92.4 389.2H99.1Z" fill="#ff1212"/>
<path d="M95.4 377.1L92.0 383.8H98.7Z" fill="#ff1212"/>
<path d="M87.8 384.5L84.4 391.2H91.1Z" fill="#ff1212"/>
<path d="M84.6 385.5L81.2 392.2H87.9Z" fill="#ff1212"/>
<path d="M167.9 311.2L164.5 317.9H171.2Z" fill="#ff1212"/>
<path d="M147.8 335.7L144.5 342.4H151.2Z" fill="#ff1212"/>
<path d="M90.9 378.2L87.5 384.9H94.2Z" fill="#ff1212"/>
<path d="M135.9 338.0L132.5 344.7H139.2Z" fill="#ff1212"/>
<path d="M122.3 350.6L118.9 357.3H125.6Z" fill="#ff1212"/>
<path d="M83.6 387.5L80.3 394.2H87.0Z" fill="#ff1212"/>
<path d="M173.9 308.9L170.6 315.6H177.3Z" fill="#ff1212"/>
<path d="M99.9 371.9L96.5 378.6H103.2Z" fill="#ff1212"/>
<path d="M133.1 344.5L129.7 351.2H136.4Z" fill="#ff1212"/>
<path d="M112.1 352.9L108.7 359.6H115.4Z" fill="#ff1212"/>
<path d="M124.6 351.8L121.3 358.5H128.0Z" fill="#ff1212"/>
<path d="M174.2 309.7L170.9 316.4H177.6Z" fill="#ff1212"/>
<path d="M152.0 327.3L148.6 334.0H155.3Z" fill="#ff1212"/>
<path d="M100.0 368.7L96.7 375.4H103.4Z" fill="#ff1212"/>
<path d="M145.9 333.7L142.6 340.4H149.3Z" fill="#ff1212"/>
<path d="M122.3 361.2L119.0 367.9H125.7Z" fill="#ff1212"/>
<path d="M175.0 302.3L171.7 309.0H178.4Z" fill="#ff1212"/>
<path d="M193.8 289.0L190.5 295.7H197.2Z" fill="#ff1212"/>
<path d="M174.8 307.6L171.4 314.3H178.1Z" fill="#ff1212"/>
<path d="M208.7 275.1L205.3 281.8H212.0Z" fill="#ff1212"/>
<path d="M178.3 304.9L175.0 311.6H181.7Z" fill="#ff1212"/>
<path d="M166.8 316.4L163.5 323.1H170.2Z" fill="#ff1212"/>
<path d="M211.7 272.0L208.3 278.7H215.0Z" fill="#ff1212"/>
<path d="M171.0 311.0L167.6 317.7H174.3Z" fill="#ff1212"/>
<path d="M202.6 280.8L199.3 287.5H206.0Z" fill="#ff1212"/>
<path d="M212.0 273.5L208.7 280.2H215.4Z" fill="#ff1212"/>
<path d="M203.7 279.3L200.4 286.0H207.1Z" fill="#ff1212"/>
<path d="M216.8 269.1L213.4 275.8H220.1Z" fill="#ff1212"/>
<path d="M176.9 308.2L173.6 314.9H180.3Z" fill="#ff1212"/>
<path d="M182.9 297.9L179.6 304.6H186.3Z" fill="#ff1212"/>
<path d="M198.3 286.4L195.0 293.1H201.7Z" fill="#ff1212"/>
<path d="M167.9 310.1L164.6 316.8H171.3Z" fill="#ff1212"/>
<path d="M219.0 267.1L215.7 273.8H222.4Z" fill="#ff1212"/>
<path d="M199.8 281.7L196.4 288.4H203.1Z" fill="#ff1212"/>
<path d="M200.9 283.8L197.6 290.5H204.3Z" fill="#ff1212"/>
<path d="M195.3 292.0L191.9 298.7H198.6Z" fill="#ff1212"/>
<path d="M190.7 292.9L187.3 299.6H194.0Z" fill="#ff1212"/>
<path d="M172.4 307.1L169.1 313.8H175.8Z" fill="#ff1212"/>
<path d="M167.2 313.9L163.9 320.6H170.6Z" fill="#ff1212"/>
<path d="M176.0 306.2L172.6 312.9H179.3Z" fill="#ff1212"/>
<path d="M162.7 313.2L159.3 319.9H166.0Z" fill="#ff1212"/>
<path d="M197.6 286.5L194.3 293.2H201.0Z" fill="#ff1212"/>
<path d="M171.6 306.4L168.3 313.1H175.0Z" fill="#ff1212"/>
<path d="M215.1 270.5L211.7 277.2H218.4Z" fill="#ff1212"/>
<path d="M167.5 316.5L164.1 323.2H170.8Z" fill="#ff1212"/>
<path d="M179.8 303.6L176.5 310.3H183.2Z" fill="#ff1212"/>
<path d="M211.5 274.6L208.1 281.3H214.8Z" fill="#ff1212"/>
<path d="M197.5 285.7L194.2 292.4H200.9Z" fill="#ff1212"/>
<path d="M185.3 298.5L182.0 305.2H188.7Z" fill="#ff1212"/>
<path d="M204.0 283.2L200.6 289.9H207.3Z" fill="#ff1212"/>
<path d="M184.6 299.6L181.2 306.3H187.9Z" fill="#ff1212"/>
<path d="M170.2 311.7L166.9 318.4H173.6Z" fill="#ff1212"/>
<path d="M218.5 269.3L215.2 276.0H221.9Z" fill="#ff1212"/>
<path d="M212.2 274.4L208.9 281.1H215.6Z" fill="#ff1212"/>
<path d="M204.3 276.9L201.0 283.6H207.7Z" fill="#ff1212"/>
<path d="M177.5 303.4L174.2 310.1H180.9Z" fill="#ff1212"/>
<path d="M190.8 293.7L187.4 300.4H194.1Z" fill="#ff1212"/>
<path d="M166.2 313.9L162.8 320.6H169.5Z" fill="#ff1212"/>
<path d="M163.3 312.4L159.9 319.1H166.6Z" fill="#ff1212"/>
<path d="M216.6 268.3L213.2 275.0H219.9Z" fill="#ff1212"/>
<path d="M185.6 297.0L182.2 303.7H188.9Z" fill="#ff1212"/>
<path d="M173.9 310.6L170.5 317.3H177.2Z" fill="#ff1212"/>
<path d="M207.3 280.7L204.0 287.4H210.7Z" fill="#ff1212"/>
<path d="M191.9 291.9L188.6 298.6H195.3Z" fill="#ff1212"/>
<path d="M199.9 284.4L196.5 291.1H203.2Z" fill="#ff1212"/>
<path d="M167.4 317.0L164.0 323.7H170.7Z" fill="#ff1212"/>
<path d="M187.2 297.9L183.8 304.6H190.5Z" fill="#ff1212"/>
<path d="M185.0 297.4L181.6 304.1H188.3Z" fill="#ff1212"/>
<path d="M178.3 307.3L175.0 314.0H181.7Z" fill="#ff1212"/>
<path d="M171.5 313.7L168.1 320.4H174.8Z" fill="#ff1212"/>
<path d="M212.3 273.3L209.0 280.0H215.7Z" fill="#ff1212"/>
<path d="M204.6 279.0L201.3 285.7H208.0Z" fill="#ff1212"/>
<path d="M194.1 288.7L190.8 295.4H197.5Z" fill="#ff1212"/>
<path d="M177.1 302.5L173.7 309.2H180.4Z" fill="#ff1212"/>
<path d="M198.3 282.8L194.9 289.5H201.6Z" fill="#ff1212"/>
<path d="M185.1 295.6L181.8 302.3H188.5Z" fill="#ff1212"/>
<path d="M161.2 319.0L157.8 325.7H164.5Z" fill="#ff1212"/>
<path d="M197.6 282.4L194.2 289.1H200.9Z" fill="#ff1212"/>
<path d="M200.1 280.9L196.8 287.6H203.5Z" fill="#ff1212"/>
<path d="M217.5 266.9L214.2 273.6H220.9Z" fill="#ff1212"/>
<path d="M209.5 277.2L206.2 283.9H212.9Z" fill="#ff1212"/>
<path d="M165.7 313.3L162.3 320.0H169.0Z" fill="#ff1212"/>
<path d="M179.6 305.9L176.3 312.6H183.0Z" fill="#ff1212"/>
<path d="M163.6 317.0L160.3 323.7H167.0Z" fill="#ff1212"/>
<path d="M165.0 321.3L161.7 328.0H168.4Z" fill="#ff1212"/>
<path d="M188.3 295.2L185.0 301.9H191.7Z" fill="#ff1212"/>
<path d="M173.3 305.0L169.9 311.7H176.6Z" fill="#ff1212"/>
<path d="M164.6 315.3L161.3 322.0H168.0Z" fill="#ff1212"/>
<path d="M197.8 283.0L194.5 289.7H201.2Z" fill="#ff1212"/>
<path d="M215.1 270.7L211.8 277.4H218.5Z" fill="#ff1212"/>
<path d="M209.5 275.5L206.1 282.2H212.8Z" fill="#ff1212"/>
<path d="M164.2 316.4L160.8 323.1H167.5Z" fill="#ff1212"/>
<path d="M178.5 302.1L175.2 308.8H181.9Z" fill="#ff1212"/>
<path d="M163.3 316.6L159.9 323.3H166.6Z" fill="#ff1212"/>
<path d="M185.7 294.5L182.4 301.2H189.1Z" fill="#ff1212"/>
<path d="M215.9 267.1L212.6 273.8H219.3Z" fill="#ff1212"/>
<path d="M172.3 307.5L169.0 314.2H175.7Z" fill="#ff1212"/>
<path d="M203.9 282.7L200.6 289.4H207.3Z" fill="#ff1212"/>
<path d="M190.1 291.8L186.8 298.5H193.5Z" fill="#ff1212"/>
<path d="M191.5 289.1L188.2 295.8H194.9Z" fill="#ff1212"/>
<path d="M209.9 274.1L206.6 280.8H213.3Z" fill="#ff1212"/>
<path d="M179.3 301.8L175.9 308.5H182.6Z" fill="#ff1212"/>
<path d="M180.1 299.9L176.8 306.6H183.5Z" fill="#ff1212"/>
<path d="M204.3 277.8L201.0 284.5H207.7Z" fill="#ff1212"/>
<path d="M169.3 317.9L165.9 324.6H172.6Z" fill="#ff1212"/>
<path d="M167.3 309.0L164.0 315.7H170.7Z" fill="#ff1212"/>
<path d="M77.6 387.3L74.2 394.1H80.9Z" fill="#ff1212"/>
<path d="M223.6 267.1L220.2 273.9H226.9Z" fill="#ff1212"/>
<path d="M219.0 267.6L215.7 274.4H222.3Z" fill="#ff1212"/>
<path d="M216.0 270.6L212.7 277.4H219.3Z" fill="#ff1212"/>
<path d="M221.0 265.1L217.7 271.9H224.3Z" fill="#ff1212"/>
</g>
<line x1="55.4" y1="417.8" x2="243.2" y2="246.0" stroke="#000" stroke-width="1.1"/>
<rect x="55.4" y="246.0" width="187.80" height="171.80" fill="none" stroke="#2a2a2a" stroke-width="0.8"/>
<g stroke="#2a2a2a" stroke-width="0.8">
<line x1="67.14" y1="417.8" x2="67.14" y2="420.7"/>
<line x1="114.09" y1="417.8" x2="114.09" y2="420.7"/>
<line x1="161.04" y1="417.8" x2="161.04" y2="420.7"/>
<line x1="207.99" y1="417.8" x2="207.99" y2="420.7"/>
<line x1="55.4" y1="407.06" x2="52.5" y2="407.06"/>
<line x1="55.4" y1="364.11" x2="52.5" y2="364.11"/>
<line x1="55.4" y1="321.16" x2="52.5" y2="321.16"/>
<line x1="55.4" y1="278.21" x2="52.5" y2="278.21"/>
</g>
<text x="67.14" y="430.20" font-family="Liberation Sans, sans-serif" font-size="10.3" text-anchor="middle" fill="#161616" stroke="#161616" stroke-width="0.3" textLength="5.8" lengthAdjust="spacingAndGlyphs">0</text>
<text x="114.09" y="430.20" font-family="Liberation Sans, sans-serif" font-size="10.3" text-anchor="middle" fill="#161616" stroke="#161616" stroke-width="0.3" textLength="5.8" lengthAdjust="spacingAndGlyphs">2</text>
<text x="161.04" y="430.20" font-family="Liberation Sans, sans-serif" font-size="10.3" text-anchor="middle" fill="#161616" stroke="#161616" stroke-width="0.3" textLength="5.8" lengthAdjust="spacingAndGlyphs">4</text>
<text x="207.99" y="430.20" font-family="Liberation Sans, sans-serif" font-size="10.3" text-anchor="middle" fill="#161616" stroke="#161616" stroke-width="0.3" textLength="5.8" lengthAdjust="spacingAndGlyphs">6</text>
<text x="50.30" y="410.76" font-family="Liberation Sans, sans-serif" font-size="10.3" text-anchor="end" fill="#161616" stroke="#161616" stroke-width="0.3" textLength="5.8" lengthAdjust="spacingAndGlyphs">0</text>
<text x="50.30" y="367.81" font-family="Liberation Sans, sans-serif" font-size="10.3" text-anchor="end" fill="#161616" stroke="#161616" stroke-width="0.3" textLength="5.8" lengthAdjust="spacingAndGlyphs">2</text>
<text x="50.30" y="324.86" font-family="Liberation Sans, sans-serif" font-size="10.3" text-anchor="end" fill="#161616" stroke="#161616" stroke-width="0.3" textLength="5.8" lengthAdjust="spacingAndGlyphs">4</text>
<text x="50.30" y="281.91" font-family="Liberation Sans, sans-serif" font-size="10.3" text-anchor="end" fill="#161616" stroke="#161616" stroke-width="0.3" textLength="5.8" lengthAdjust="spacingAndGlyphs">6</text>
<text x="149.30" y="237.70" font-family="Liberation Sans, sans-serif" font-size="11.65" text-anchor="middle" fill="#161616" stroke="#161616" stroke-width="0.3" textLength="80.4" lengthAdjust="spacingAndGlyphs">Band Gap (eV)</text>
<text x="149.00" y="443.40" font-family="Liberation Sans, sans-serif" font-size="11.65" text-anchor="middle" fill="#161616" stroke="#161616" stroke-width="0.3" textLength="49.8" lengthAdjust="spacingAndGlyphs">DFT data</text>
<text transform="translate(18.3 332.30) rotate(-90)" font-family="Liberation Sans, sans-serif" font-size="11.65" text-anchor="middle" fill="#161616" stroke="#161616" stroke-width="0.3" textLength="74.5" lengthAdjust="spacingAndGlyphs">ML prediction</text>
<rect x="60.60" y="251.60" width="61.9" height="34.4" rx="2.2" ry="2.2" fill="#fff" fill-opacity="0.8" stroke="#d4d4d4" stroke-width="0.9"/>
<g stroke="#000" stroke-width="0.7">
<path d="M76.4 257.9L73.1 264.7H79.8Z" fill="#1212ff"/>
<path d="M76.4 274.0L73.1 280.8H79.8Z" fill="#ff1212"/>
</g>
<text x="96.50" y="264.10" font-family="Liberation Sans, sans-serif" font-size="11.65" text-anchor="start" fill="#161616" stroke="#161616" stroke-width="0.3" textLength="21.1" lengthAdjust="spacingAndGlyphs">PBE</text>
<text x="96.50" y="280.30" font-family="Liberation Sans, sans-serif" font-size="11.65" text-anchor="start" fill="#161616" stroke="#161616" stroke-width="0.3" textLength="22.2" lengthAdjust="spacingAndGlyphs">HSE</text>
<text x="231.00" y="392.50" font-family="Liberation Sans, sans-serif" font-size="10.2" text-anchor="end" fill="#161616" stroke="#161616" stroke-width="0.3" textLength="96.8" lengthAdjust="spacingAndGlyphs">PBE rmse = 0.10 eV</text>
<text x="231.00" y="409.50" font-family="Liberation Sans, sans-serif" font-size="10.2" text-anchor="end" fill="#161616" stroke="#161616" stroke-width="0.3" textLength="97.3" lengthAdjust="spacingAndGlyphs">HSE rmse = 0.12 eV</text>
<text x="5.00" y="248.80" font-family="Liberation Serif, serif" font-size="16.4" text-anchor="start" fill="#111" stroke="#111" stroke-width="0.3">(c)</text>
<g stroke="#0a2c42" stroke-width="1.25" stroke-linejoin="round">
<path d="M363.50 359.7V393.6A48.6 12.50 0 0 0 460.70 393.6V359.7Z" fill="#43ace0"/>
<ellipse cx="412.1" cy="359.7" rx="48.6" ry="12.50" fill="#90d4f3"/>
<path d="M350.90 306.3V350.3A61.9 16.00 0 0 0 474.70 350.3V306.3Z" fill="#45aee0"/>
<ellipse cx="412.8" cy="306.3" rx="61.9" ry="16.00" fill="#8ecfed"/>
<path d="M332.30 240.0V292.3A80.3 21.00 0 0 0 492.90 292.3V240.0Z" fill="#5ec9f1"/>
<ellipse cx="412.6" cy="240.0" rx="80.3" ry="21.00" fill="#9fdcf7"/>
<path d="M308.40 149.0V225.9A103.6 24.20 0 0 0 515.60 225.9V149.0Z" fill="#80c9ea"/>
<ellipse cx="412.0" cy="149.0" rx="103.6" ry="24.20" fill="#b3ddf2"/>
<path d="M282.40 52.6V133.8A130.35 26.70 0 0 0 543.10 133.8V52.6Z" fill="#bfe3f4"/>
<ellipse cx="412.75" cy="52.6" rx="130.35" ry="26.70" fill="#d9edf9"/>
</g>
<text x="418.20" y="60.40" font-family="Liberation Sans, sans-serif" font-size="12.9" text-anchor="middle" fill="#0c0c0c" stroke="#0c0c0c" stroke-width="0.3" textLength="116.8" lengthAdjust="spacingAndGlyphs">151,140 compounds</text>
<text x="413.90" y="112.80" font-family="Liberation Sans, sans-serif" font-size="12.0" text-anchor="middle" fill="#0c0c0c" stroke="#0c0c0c" stroke-width="0.3" textLength="141.5" lengthAdjust="spacingAndGlyphs">Tolerance factor screening</text>
<text x="414.30" y="126.80" font-family="Liberation Sans, sans-serif" font-size="12.1" text-anchor="middle" fill="#0c0c0c" stroke="#0c0c0c" stroke-width="0.3" textLength="103.8" lengthAdjust="spacingAndGlyphs">67,916 compounds</text>
<text x="415.00" y="203.40" font-family="Liberation Sans, sans-serif" font-size="12.9" text-anchor="middle" fill="#0c0c0c" stroke="#0c0c0c" stroke-width="0.3" textLength="181.2" lengthAdjust="spacingAndGlyphs">Decomposition energy &lt; 0.1 eV</text>
<text x="415.20" y="219.80" font-family="Liberation Sans, sans-serif" font-size="12.9" text-anchor="middle" fill="#0c0c0c" stroke="#0c0c0c" stroke-width="0.3" textLength="110.0" lengthAdjust="spacingAndGlyphs">59,273 compounds</text>
<text x="413.20" y="277.50" font-family="Liberation Sans, sans-serif" font-size="12.1" text-anchor="middle" fill="#0c0c0c" stroke="#0c0c0c" stroke-width="0.3" textLength="135.4" lengthAdjust="spacingAndGlyphs">1.23 ≤ Band gap (eV) ≤ 3</text>
<text x="412.80" y="291.60" font-family="Liberation Sans, sans-serif" font-size="12.1" text-anchor="middle" fill="#0c0c0c" stroke="#0c0c0c" stroke-width="0.3" textLength="104.2" lengthAdjust="spacingAndGlyphs">23,201 compounds</text>
<text x="412.30" y="338.80" font-family="Liberation Sans, sans-serif" font-size="12.0" text-anchor="middle" fill="#0c0c0c" stroke="#0c0c0c" stroke-width="0.3" textLength="47.0" lengthAdjust="spacingAndGlyphs">CBM &lt; 0</text>
<text x="412.30" y="353.50" font-family="Liberation Sans, sans-serif" font-size="12.0" text-anchor="middle" fill="#0c0c0c" stroke="#0c0c0c" stroke-width="0.3" textLength="60.8" lengthAdjust="spacingAndGlyphs">VBM &gt;1.23</text>
<text x="412.50" y="387.00" font-family="Liberation Sans, sans-serif" font-size="11.3" text-anchor="middle" fill="#0c0c0c" stroke="#0c0c0c" stroke-width="0.3" textLength="87.0" lengthAdjust="spacingAndGlyphs">3043 compounds</text>
<text x="265.80" y="25.00" font-family="Liberation Serif, serif" font-size="16.1" text-anchor="start" fill="#111" stroke="#111" stroke-width="0.3">(b)</text>
</svg>
</body></html>
